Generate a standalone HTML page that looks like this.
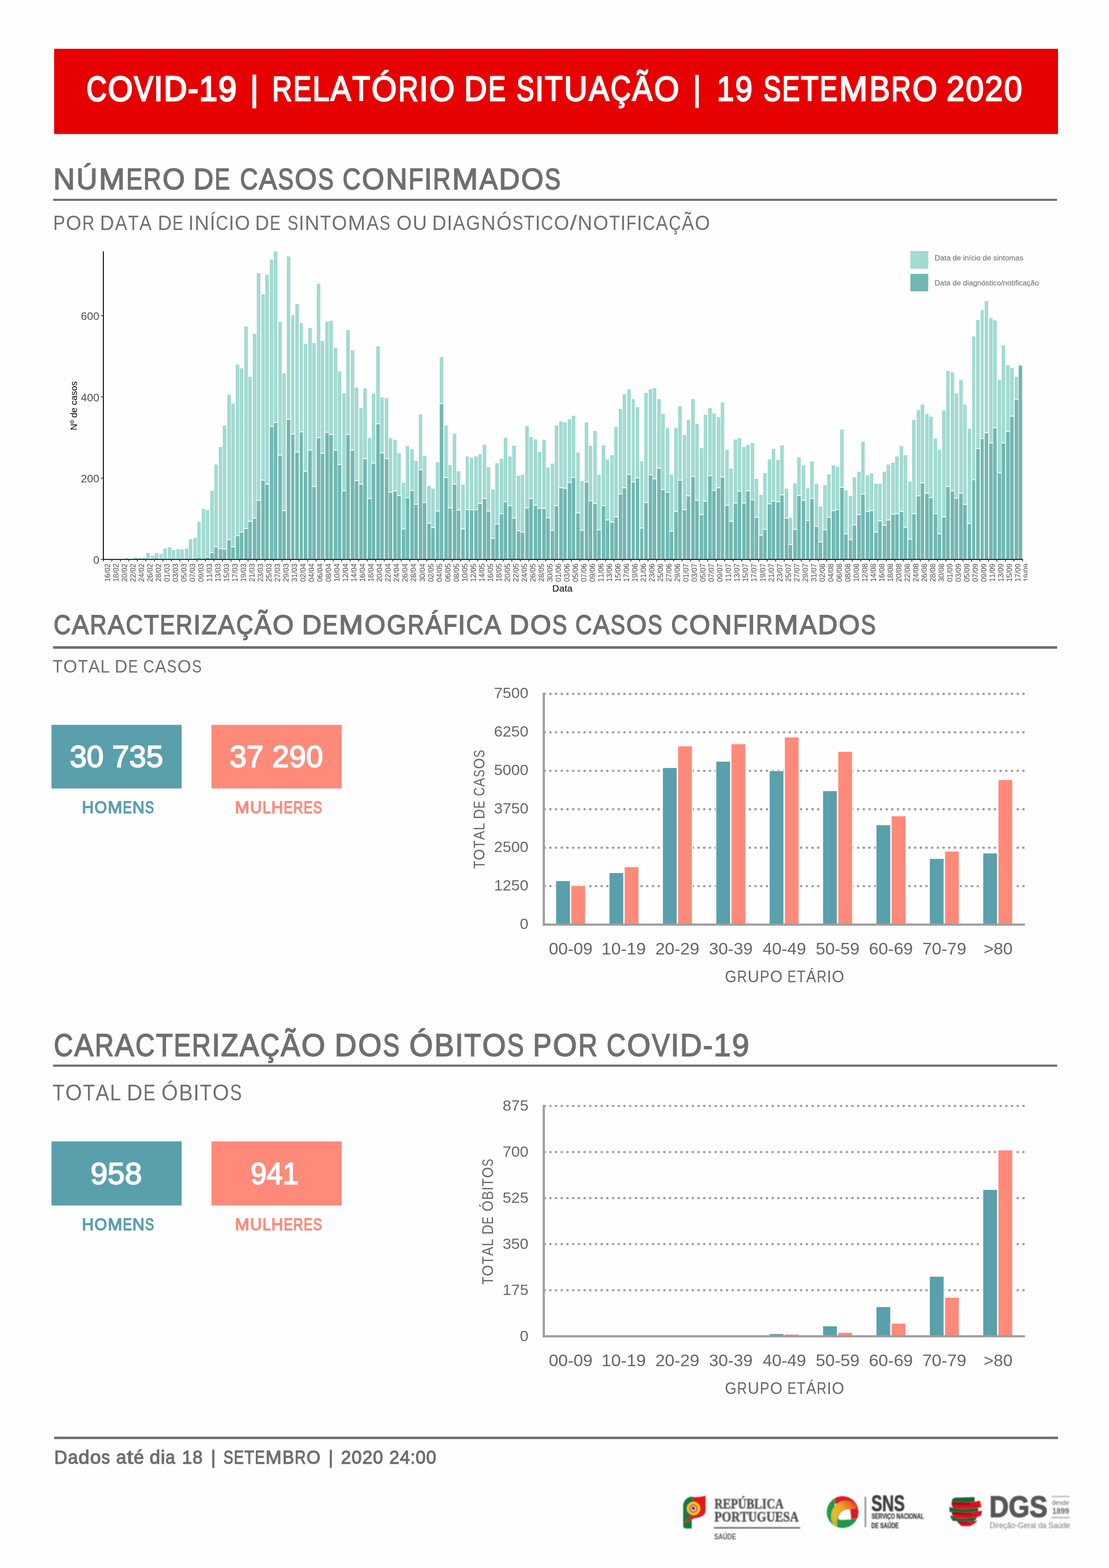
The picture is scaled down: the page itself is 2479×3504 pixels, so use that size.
<!DOCTYPE html>
<html lang="pt"><head><meta charset="utf-8"><title>COVID-19 | Relatório de Situação | 19 Setembro 2020</title>
<style>
html,body{margin:0;padding:0;background:#fff}
body{width:2479px;height:3504px;overflow:hidden}
svg{display:block}
text{font-kerning:none;white-space:pre}
</style></head><body>
<svg width="2479" height="3504" viewBox="0 0 2479 3504">
<rect width="2479" height="3504" fill="#fefefe"/>
<rect x="121.00" y="109.00" width="2244.00" height="190.50" fill="#e60000"/>
<text aria-label="COVID-19 | RELATÓRIO DE SITUAÇÃO | 19 SETEMBRO 2020" y="225.20" font-family='"Liberation Sans",sans-serif' font-size="78.05" fill="#fff" stroke-linejoin="miter" stroke-miterlimit="3"><tspan x="193.45" textLength="44.79" lengthAdjust="spacingAndGlyphs" stroke="#fff" stroke-width="3.60">C</tspan><tspan x="241.44" textLength="55.30" lengthAdjust="spacingAndGlyphs" stroke="#fff" stroke-width="3.60">O</tspan><tspan x="299.84" textLength="42.26" lengthAdjust="spacingAndGlyphs" stroke="#fff" stroke-width="3.60">V</tspan><tspan x="344.08" textLength="19.80" lengthAdjust="spacingAndGlyphs" stroke="#fff" stroke-width="3.60">I</tspan><tspan x="366.16" textLength="51.76" lengthAdjust="spacingAndGlyphs" stroke="#fff" stroke-width="3.60">D</tspan><tspan x="420.30" textLength="22.85" lengthAdjust="spacingAndGlyphs" stroke="#fff" stroke-width="3.60">-</tspan><tspan x="445.17" textLength="40.60" lengthAdjust="spacingAndGlyphs" stroke="#fff" stroke-width="3.60">1</tspan><tspan x="488.36" textLength="40.60" lengthAdjust="spacingAndGlyphs" stroke="#fff" stroke-width="3.60">9</tspan> <tspan x="558.57" textLength="19.87" lengthAdjust="spacingAndGlyphs" stroke="#fff" stroke-width="2.40">|</tspan> <tspan x="608.31" textLength="44.78" lengthAdjust="spacingAndGlyphs" stroke="#fff" stroke-width="2.80">R</tspan><tspan x="655.81" textLength="40.29" lengthAdjust="spacingAndGlyphs" stroke="#fff" stroke-width="2.80">E</tspan><tspan x="698.59" textLength="37.60" lengthAdjust="spacingAndGlyphs" stroke="#fff" stroke-width="2.80">L</tspan><tspan x="738.85" textLength="45.84" lengthAdjust="spacingAndGlyphs" stroke="#fff" stroke-width="2.80">A</tspan><tspan x="787.44" textLength="40.08" lengthAdjust="spacingAndGlyphs" stroke="#fff" stroke-width="2.80">T</tspan><tspan x="830.60" textLength="56.42" lengthAdjust="spacingAndGlyphs" stroke="#fff" stroke-width="2.80">Ó</tspan><tspan x="890.25" textLength="44.78" lengthAdjust="spacingAndGlyphs" stroke="#fff" stroke-width="2.80">R</tspan><tspan x="937.11" textLength="20.20" lengthAdjust="spacingAndGlyphs" stroke="#fff" stroke-width="2.80">I</tspan><tspan x="959.75" textLength="56.42" lengthAdjust="spacingAndGlyphs" stroke="#fff" stroke-width="2.80">O</tspan> <tspan x="1037.39" textLength="51.13" lengthAdjust="spacingAndGlyphs" stroke="#fff" stroke-width="2.80">D</tspan><tspan x="1091.40" textLength="39.01" lengthAdjust="spacingAndGlyphs" stroke="#fff" stroke-width="2.80">E</tspan> <tspan x="1154.41" textLength="39.54" lengthAdjust="spacingAndGlyphs" stroke="#fff" stroke-width="2.80">S</tspan><tspan x="1195.85" textLength="20.09" lengthAdjust="spacingAndGlyphs" stroke="#fff" stroke-width="2.80">I</tspan><tspan x="1217.85" textLength="39.86" lengthAdjust="spacingAndGlyphs" stroke="#fff" stroke-width="2.80">T</tspan><tspan x="1260.66" textLength="52.45" lengthAdjust="spacingAndGlyphs" stroke="#fff" stroke-width="2.80">U</tspan><tspan x="1316.24" textLength="45.59" lengthAdjust="spacingAndGlyphs" stroke="#fff" stroke-width="2.80">A</tspan><tspan x="1364.74" textLength="45.45" lengthAdjust="spacingAndGlyphs" stroke="#fff" stroke-width="2.80">Ç</tspan><tspan x="1413.10" textLength="45.59" lengthAdjust="spacingAndGlyphs" stroke="#fff" stroke-width="2.80">Ã</tspan><tspan x="1461.94" textLength="56.11" lengthAdjust="spacingAndGlyphs" stroke="#fff" stroke-width="2.80">O</tspan> <tspan x="1547.52" textLength="21.15" lengthAdjust="spacingAndGlyphs" stroke="#fff" stroke-width="1.20">|</tspan> <tspan x="1602.53" textLength="38.50" lengthAdjust="spacingAndGlyphs" stroke="#fff" stroke-width="2.80">1</tspan><tspan x="1643.48" textLength="38.50" lengthAdjust="spacingAndGlyphs" stroke="#fff" stroke-width="2.80">9</tspan> <tspan x="1706.54" textLength="39.13" lengthAdjust="spacingAndGlyphs" stroke="#fff" stroke-width="2.80">S</tspan><tspan x="1748.18" textLength="39.65" lengthAdjust="spacingAndGlyphs" stroke="#fff" stroke-width="2.80">E</tspan><tspan x="1790.35" textLength="39.44" lengthAdjust="spacingAndGlyphs" stroke="#fff" stroke-width="2.80">T</tspan><tspan x="1832.31" textLength="39.65" lengthAdjust="spacingAndGlyphs" stroke="#fff" stroke-width="2.80">E</tspan><tspan x="1875.28" textLength="64.36" lengthAdjust="spacingAndGlyphs" stroke="#fff" stroke-width="2.80">M</tspan><tspan x="1943.17" textLength="46.19" lengthAdjust="spacingAndGlyphs" stroke="#fff" stroke-width="2.80">B</tspan><tspan x="1992.25" textLength="44.07" lengthAdjust="spacingAndGlyphs" stroke="#fff" stroke-width="2.80">R</tspan><tspan x="2039.49" textLength="55.52" lengthAdjust="spacingAndGlyphs" stroke="#fff" stroke-width="2.80">O</tspan> <tspan x="2115.75" textLength="40.34" lengthAdjust="spacingAndGlyphs" stroke="#fff" stroke-width="2.80">2</tspan><tspan x="2158.67" textLength="40.34" lengthAdjust="spacingAndGlyphs" stroke="#fff" stroke-width="2.80">0</tspan><tspan x="2201.58" textLength="40.34" lengthAdjust="spacingAndGlyphs" stroke="#fff" stroke-width="2.80">2</tspan><tspan x="2244.49" textLength="40.34" lengthAdjust="spacingAndGlyphs" stroke="#fff" stroke-width="2.80">0</tspan></text>
<text aria-label="NÚMERO DE CASOS CONFIRMADOS" y="423.20" font-family='"Liberation Sans",sans-serif' font-size="66.13" fill="#706f6f" stroke-linejoin="miter" stroke-miterlimit="3"><tspan x="119.08" textLength="48.60" lengthAdjust="spacingAndGlyphs" stroke="#706f6f" stroke-width="2.00">N</tspan><tspan x="170.72" textLength="46.93" lengthAdjust="spacingAndGlyphs" stroke="#706f6f" stroke-width="2.00">Ú</tspan><tspan x="221.01" textLength="58.20" lengthAdjust="spacingAndGlyphs" stroke="#706f6f" stroke-width="2.00">M</tspan><tspan x="282.20" textLength="35.85" lengthAdjust="spacingAndGlyphs" stroke="#706f6f" stroke-width="2.00">E</tspan><tspan x="320.47" textLength="39.85" lengthAdjust="spacingAndGlyphs" stroke="#706f6f" stroke-width="2.00">R</tspan><tspan x="363.19" textLength="50.20" lengthAdjust="spacingAndGlyphs" stroke="#706f6f" stroke-width="2.00">O</tspan> <tspan x="432.40" textLength="44.86" lengthAdjust="spacingAndGlyphs" stroke="#706f6f" stroke-width="2.00">D</tspan><tspan x="479.78" textLength="34.22" lengthAdjust="spacingAndGlyphs" stroke="#706f6f" stroke-width="2.00">E</tspan> <tspan x="536.59" textLength="39.94" lengthAdjust="spacingAndGlyphs" stroke="#706f6f" stroke-width="2.00">C</tspan><tspan x="579.08" textLength="40.06" lengthAdjust="spacingAndGlyphs" stroke="#706f6f" stroke-width="2.00">A</tspan><tspan x="621.53" textLength="34.74" lengthAdjust="spacingAndGlyphs" stroke="#706f6f" stroke-width="2.00">S</tspan><tspan x="658.96" textLength="49.30" lengthAdjust="spacingAndGlyphs" stroke="#706f6f" stroke-width="2.00">O</tspan><tspan x="710.95" textLength="34.74" lengthAdjust="spacingAndGlyphs" stroke="#706f6f" stroke-width="2.00">S</tspan> <tspan x="765.65" textLength="40.52" lengthAdjust="spacingAndGlyphs" stroke="#706f6f" stroke-width="2.00">C</tspan><tspan x="809.06" textLength="50.03" lengthAdjust="spacingAndGlyphs" stroke="#706f6f" stroke-width="2.00">O</tspan><tspan x="862.23" textLength="48.43" lengthAdjust="spacingAndGlyphs" stroke="#706f6f" stroke-width="2.00">N</tspan><tspan x="913.26" textLength="33.15" lengthAdjust="spacingAndGlyphs" stroke="#706f6f" stroke-width="2.00">F</tspan><tspan x="948.05" textLength="17.91" lengthAdjust="spacingAndGlyphs" stroke="#706f6f" stroke-width="2.00">I</tspan><tspan x="967.79" textLength="39.71" lengthAdjust="spacingAndGlyphs" stroke="#706f6f" stroke-width="2.00">R</tspan><tspan x="1010.62" textLength="57.99" lengthAdjust="spacingAndGlyphs" stroke="#706f6f" stroke-width="2.00">M</tspan><tspan x="1071.76" textLength="40.65" lengthAdjust="spacingAndGlyphs" stroke="#706f6f" stroke-width="2.00">A</tspan><tspan x="1115.20" textLength="46.83" lengthAdjust="spacingAndGlyphs" stroke="#706f6f" stroke-width="2.00">D</tspan><tspan x="1165.12" textLength="50.03" lengthAdjust="spacingAndGlyphs" stroke="#706f6f" stroke-width="2.00">O</tspan><tspan x="1217.87" textLength="35.25" lengthAdjust="spacingAndGlyphs" stroke="#706f6f" stroke-width="2.00">S</tspan></text>
<rect x="118.50" y="444.20" width="2244.50" height="4.70" fill="#706f6f"/>
<text aria-label="POR DATA DE INÍCIO DE SINTOMAS OU DIAGNÓSTICO/NOTIFICAÇÃO" y="513.60" font-family='"Liberation Sans",sans-serif' font-size="45.78" fill="#706f6f" stroke-linejoin="miter" stroke-miterlimit="3"><tspan x="118.93" textLength="26.60" lengthAdjust="spacingAndGlyphs">P</tspan><tspan x="147.47" textLength="34.40" lengthAdjust="spacingAndGlyphs">O</tspan><tspan x="183.85" textLength="27.31" lengthAdjust="spacingAndGlyphs">R</tspan> <tspan x="223.51" textLength="31.56" lengthAdjust="spacingAndGlyphs">D</tspan><tspan x="256.96" textLength="27.40" lengthAdjust="spacingAndGlyphs">A</tspan><tspan x="285.99" textLength="23.95" lengthAdjust="spacingAndGlyphs">T</tspan><tspan x="311.58" textLength="27.40" lengthAdjust="spacingAndGlyphs">A</tspan> <tspan x="352.65" textLength="31.21" lengthAdjust="spacingAndGlyphs">D</tspan><tspan x="385.62" textLength="23.81" lengthAdjust="spacingAndGlyphs">E</tspan> <tspan x="421.06" textLength="12.16" lengthAdjust="spacingAndGlyphs">I</tspan><tspan x="434.66" textLength="32.88" lengthAdjust="spacingAndGlyphs">N</tspan><tspan x="468.98" textLength="12.16" lengthAdjust="spacingAndGlyphs">Í</tspan><tspan x="482.41" textLength="27.52" lengthAdjust="spacingAndGlyphs">C</tspan><tspan x="511.19" textLength="12.16" lengthAdjust="spacingAndGlyphs">I</tspan><tspan x="524.82" textLength="33.97" lengthAdjust="spacingAndGlyphs">O</tspan> <tspan x="570.35" textLength="31.21" lengthAdjust="spacingAndGlyphs">D</tspan><tspan x="603.32" textLength="23.81" lengthAdjust="spacingAndGlyphs">E</tspan> <tspan x="642.68" textLength="23.84" lengthAdjust="spacingAndGlyphs">S</tspan><tspan x="667.67" textLength="12.11" lengthAdjust="spacingAndGlyphs">I</tspan><tspan x="681.21" textLength="32.75" lengthAdjust="spacingAndGlyphs">N</tspan><tspan x="715.77" textLength="24.03" lengthAdjust="spacingAndGlyphs">T</tspan><tspan x="741.65" textLength="33.83" lengthAdjust="spacingAndGlyphs">O</tspan><tspan x="777.82" textLength="39.22" lengthAdjust="spacingAndGlyphs">M</tspan><tspan x="819.17" textLength="27.49" lengthAdjust="spacingAndGlyphs">A</tspan><tspan x="848.30" textLength="23.84" lengthAdjust="spacingAndGlyphs">S</tspan> <tspan x="886.32" textLength="34.10" lengthAdjust="spacingAndGlyphs">O</tspan><tspan x="922.53" textLength="31.88" lengthAdjust="spacingAndGlyphs">U</tspan> <tspan x="966.11" textLength="31.57" lengthAdjust="spacingAndGlyphs">D</tspan><tspan x="999.07" textLength="12.07" lengthAdjust="spacingAndGlyphs">I</tspan><tspan x="1012.41" textLength="27.40" lengthAdjust="spacingAndGlyphs">A</tspan><tspan x="1041.69" textLength="31.53" lengthAdjust="spacingAndGlyphs">G</tspan><tspan x="1075.26" textLength="32.65" lengthAdjust="spacingAndGlyphs">N</tspan><tspan x="1110.03" textLength="33.72" lengthAdjust="spacingAndGlyphs">Ó</tspan><tspan x="1145.59" textLength="23.77" lengthAdjust="spacingAndGlyphs">S</tspan><tspan x="1170.88" textLength="23.96" lengthAdjust="spacingAndGlyphs">T</tspan><tspan x="1195.98" textLength="12.07" lengthAdjust="spacingAndGlyphs">I</tspan><tspan x="1209.31" textLength="27.32" lengthAdjust="spacingAndGlyphs">C</tspan><tspan x="1238.58" textLength="33.72" lengthAdjust="spacingAndGlyphs">O</tspan><tspan x="1273.89" textLength="15.90" lengthAdjust="spacingAndGlyphs">/</tspan><tspan x="1291.34" textLength="32.65" lengthAdjust="spacingAndGlyphs">N</tspan><tspan x="1326.10" textLength="33.72" lengthAdjust="spacingAndGlyphs">O</tspan><tspan x="1361.66" textLength="23.96" lengthAdjust="spacingAndGlyphs">T</tspan><tspan x="1386.77" textLength="12.07" lengthAdjust="spacingAndGlyphs">I</tspan><tspan x="1399.94" textLength="22.35" lengthAdjust="spacingAndGlyphs">F</tspan><tspan x="1423.39" textLength="12.07" lengthAdjust="spacingAndGlyphs">I</tspan><tspan x="1436.72" textLength="27.32" lengthAdjust="spacingAndGlyphs">C</tspan><tspan x="1465.78" textLength="27.40" lengthAdjust="spacingAndGlyphs">A</tspan><tspan x="1494.93" textLength="27.32" lengthAdjust="spacingAndGlyphs">Ç</tspan><tspan x="1524.00" textLength="27.40" lengthAdjust="spacingAndGlyphs">Ã</tspan><tspan x="1553.35" textLength="33.72" lengthAdjust="spacingAndGlyphs">O</tspan></text>
<text aria-label="CARACTERIZAÇÃO DEMOGRÁFICA DOS CASOS CONFIRMADOS" y="1417.30" font-family='"Liberation Sans",sans-serif' font-size="61.77" fill="#706f6f" stroke-linejoin="miter" stroke-miterlimit="3"><tspan x="119.92" textLength="38.07" lengthAdjust="spacingAndGlyphs" stroke="#706f6f" stroke-width="2.00">C</tspan><tspan x="160.43" textLength="38.19" lengthAdjust="spacingAndGlyphs" stroke="#706f6f" stroke-width="2.00">A</tspan><tspan x="201.03" textLength="37.31" lengthAdjust="spacingAndGlyphs" stroke="#706f6f" stroke-width="2.00">R</tspan><tspan x="240.75" textLength="38.19" lengthAdjust="spacingAndGlyphs" stroke="#706f6f" stroke-width="2.00">A</tspan><tspan x="281.37" textLength="38.07" lengthAdjust="spacingAndGlyphs" stroke="#706f6f" stroke-width="2.00">C</tspan><tspan x="321.73" textLength="33.39" lengthAdjust="spacingAndGlyphs" stroke="#706f6f" stroke-width="2.00">T</tspan><tspan x="357.25" textLength="33.56" lengthAdjust="spacingAndGlyphs" stroke="#706f6f" stroke-width="2.00">E</tspan><tspan x="393.08" textLength="37.31" lengthAdjust="spacingAndGlyphs" stroke="#706f6f" stroke-width="2.00">R</tspan><tspan x="432.11" textLength="16.83" lengthAdjust="spacingAndGlyphs" stroke="#706f6f" stroke-width="2.00">I</tspan><tspan x="450.58" textLength="34.45" lengthAdjust="spacingAndGlyphs" stroke="#706f6f" stroke-width="2.00">Z</tspan><tspan x="487.35" textLength="38.19" lengthAdjust="spacingAndGlyphs" stroke="#706f6f" stroke-width="2.00">A</tspan><tspan x="527.97" textLength="38.07" lengthAdjust="spacingAndGlyphs" stroke="#706f6f" stroke-width="2.00">Ç</tspan><tspan x="568.48" textLength="38.19" lengthAdjust="spacingAndGlyphs" stroke="#706f6f" stroke-width="2.00">Ã</tspan><tspan x="609.39" textLength="47.00" lengthAdjust="spacingAndGlyphs" stroke="#706f6f" stroke-width="2.00">O</tspan> <tspan x="675.02" textLength="43.83" lengthAdjust="spacingAndGlyphs" stroke="#706f6f" stroke-width="2.00">D</tspan><tspan x="721.32" textLength="33.44" lengthAdjust="spacingAndGlyphs" stroke="#706f6f" stroke-width="2.00">E</tspan><tspan x="757.55" textLength="54.28" lengthAdjust="spacingAndGlyphs" stroke="#706f6f" stroke-width="2.00">M</tspan><tspan x="815.06" textLength="46.82" lengthAdjust="spacingAndGlyphs" stroke="#706f6f" stroke-width="2.00">O</tspan><tspan x="864.78" textLength="43.77" lengthAdjust="spacingAndGlyphs" stroke="#706f6f" stroke-width="2.00">G</tspan><tspan x="911.13" textLength="37.17" lengthAdjust="spacingAndGlyphs" stroke="#706f6f" stroke-width="2.00">R</tspan><tspan x="950.70" textLength="38.05" lengthAdjust="spacingAndGlyphs" stroke="#706f6f" stroke-width="2.00">Á</tspan><tspan x="990.95" textLength="31.03" lengthAdjust="spacingAndGlyphs" stroke="#706f6f" stroke-width="2.00">F</tspan><tspan x="1023.50" textLength="16.76" lengthAdjust="spacingAndGlyphs" stroke="#706f6f" stroke-width="2.00">I</tspan><tspan x="1042.01" textLength="37.93" lengthAdjust="spacingAndGlyphs" stroke="#706f6f" stroke-width="2.00">C</tspan><tspan x="1082.37" textLength="38.05" lengthAdjust="spacingAndGlyphs" stroke="#706f6f" stroke-width="2.00">A</tspan> <tspan x="1138.95" textLength="43.56" lengthAdjust="spacingAndGlyphs" stroke="#706f6f" stroke-width="2.00">D</tspan><tspan x="1185.39" textLength="46.54" lengthAdjust="spacingAndGlyphs" stroke="#706f6f" stroke-width="2.00">O</tspan><tspan x="1234.46" textLength="32.80" lengthAdjust="spacingAndGlyphs" stroke="#706f6f" stroke-width="2.00">S</tspan> <tspan x="1285.99" textLength="37.12" lengthAdjust="spacingAndGlyphs" stroke="#706f6f" stroke-width="2.00">C</tspan><tspan x="1325.48" textLength="37.23" lengthAdjust="spacingAndGlyphs" stroke="#706f6f" stroke-width="2.00">A</tspan><tspan x="1364.93" textLength="32.29" lengthAdjust="spacingAndGlyphs" stroke="#706f6f" stroke-width="2.00">S</tspan><tspan x="1399.72" textLength="45.82" lengthAdjust="spacingAndGlyphs" stroke="#706f6f" stroke-width="2.00">O</tspan><tspan x="1448.03" textLength="32.29" lengthAdjust="spacingAndGlyphs" stroke="#706f6f" stroke-width="2.00">S</tspan> <tspan x="1500.13" textLength="38.03" lengthAdjust="spacingAndGlyphs" stroke="#706f6f" stroke-width="2.00">C</tspan><tspan x="1540.87" textLength="46.95" lengthAdjust="spacingAndGlyphs" stroke="#706f6f" stroke-width="2.00">O</tspan><tspan x="1590.76" textLength="45.44" lengthAdjust="spacingAndGlyphs" stroke="#706f6f" stroke-width="2.00">N</tspan><tspan x="1638.65" textLength="31.11" lengthAdjust="spacingAndGlyphs" stroke="#706f6f" stroke-width="2.00">F</tspan><tspan x="1671.29" textLength="16.81" lengthAdjust="spacingAndGlyphs" stroke="#706f6f" stroke-width="2.00">I</tspan><tspan x="1689.82" textLength="37.26" lengthAdjust="spacingAndGlyphs" stroke="#706f6f" stroke-width="2.00">R</tspan><tspan x="1730.01" textLength="54.42" lengthAdjust="spacingAndGlyphs" stroke="#706f6f" stroke-width="2.00">M</tspan><tspan x="1787.38" textLength="38.15" lengthAdjust="spacingAndGlyphs" stroke="#706f6f" stroke-width="2.00">A</tspan><tspan x="1828.15" textLength="43.94" lengthAdjust="spacingAndGlyphs" stroke="#706f6f" stroke-width="2.00">D</tspan><tspan x="1874.99" textLength="46.95" lengthAdjust="spacingAndGlyphs" stroke="#706f6f" stroke-width="2.00">O</tspan><tspan x="1924.49" textLength="33.08" lengthAdjust="spacingAndGlyphs" stroke="#706f6f" stroke-width="2.00">S</tspan></text>
<rect x="118.50" y="1444.00" width="2244.50" height="5.80" fill="#706f6f"/>
<text aria-label="TOTAL DE CASOS" y="1502.60" font-family='"Liberation Sans",sans-serif' font-size="41.57" fill="#706f6f" stroke-linejoin="miter" stroke-miterlimit="3"><tspan x="117.69" textLength="22.09" lengthAdjust="spacingAndGlyphs">T</tspan><tspan x="141.48" textLength="31.10" lengthAdjust="spacingAndGlyphs">O</tspan><tspan x="174.27" textLength="22.09" lengthAdjust="spacingAndGlyphs">T</tspan><tspan x="197.87" textLength="25.27" lengthAdjust="spacingAndGlyphs">A</tspan><tspan x="224.61" textLength="20.73" lengthAdjust="spacingAndGlyphs">L</tspan> <tspan x="256.36" textLength="28.56" lengthAdjust="spacingAndGlyphs">D</tspan><tspan x="286.52" textLength="21.78" lengthAdjust="spacingAndGlyphs">E</tspan> <tspan x="319.95" textLength="24.95" lengthAdjust="spacingAndGlyphs">C</tspan><tspan x="346.49" textLength="25.03" lengthAdjust="spacingAndGlyphs">A</tspan><tspan x="373.02" textLength="21.71" lengthAdjust="spacingAndGlyphs">S</tspan><tspan x="396.40" textLength="30.81" lengthAdjust="spacingAndGlyphs">O</tspan><tspan x="428.88" textLength="21.71" lengthAdjust="spacingAndGlyphs">S</tspan></text>
<text aria-label="CARACTERIZAÇÃO DOS ÓBITOS POR COVID-19" y="2360.30" font-family='"Liberation Sans",sans-serif' font-size="69.77" fill="#706f6f" stroke-linejoin="miter" stroke-miterlimit="3"><tspan x="120.17" textLength="43.06" lengthAdjust="spacingAndGlyphs" stroke="#706f6f" stroke-width="2.00">C</tspan><tspan x="165.98" textLength="43.19" lengthAdjust="spacingAndGlyphs" stroke="#706f6f" stroke-width="2.00">A</tspan><tspan x="211.90" textLength="42.19" lengthAdjust="spacingAndGlyphs" stroke="#706f6f" stroke-width="2.00">R</tspan><tspan x="256.82" textLength="43.19" lengthAdjust="spacingAndGlyphs" stroke="#706f6f" stroke-width="2.00">A</tspan><tspan x="302.76" textLength="43.06" lengthAdjust="spacingAndGlyphs" stroke="#706f6f" stroke-width="2.00">C</tspan><tspan x="348.40" textLength="37.76" lengthAdjust="spacingAndGlyphs" stroke="#706f6f" stroke-width="2.00">T</tspan><tspan x="388.57" textLength="37.96" lengthAdjust="spacingAndGlyphs" stroke="#706f6f" stroke-width="2.00">E</tspan><tspan x="429.09" textLength="42.19" lengthAdjust="spacingAndGlyphs" stroke="#706f6f" stroke-width="2.00">R</tspan><tspan x="473.23" textLength="19.03" lengthAdjust="spacingAndGlyphs" stroke="#706f6f" stroke-width="2.00">I</tspan><tspan x="494.11" textLength="38.96" lengthAdjust="spacingAndGlyphs" stroke="#706f6f" stroke-width="2.00">Z</tspan><tspan x="535.69" textLength="43.19" lengthAdjust="spacingAndGlyphs" stroke="#706f6f" stroke-width="2.00">A</tspan><tspan x="581.64" textLength="43.06" lengthAdjust="spacingAndGlyphs" stroke="#706f6f" stroke-width="2.00">Ç</tspan><tspan x="627.45" textLength="43.19" lengthAdjust="spacingAndGlyphs" stroke="#706f6f" stroke-width="2.00">Ã</tspan><tspan x="673.71" textLength="53.16" lengthAdjust="spacingAndGlyphs" stroke="#706f6f" stroke-width="2.00">O</tspan> <tspan x="748.11" textLength="49.25" lengthAdjust="spacingAndGlyphs" stroke="#706f6f" stroke-width="2.00">D</tspan><tspan x="800.60" textLength="52.61" lengthAdjust="spacingAndGlyphs" stroke="#706f6f" stroke-width="2.00">O</tspan><tspan x="856.08" textLength="37.07" lengthAdjust="spacingAndGlyphs" stroke="#706f6f" stroke-width="2.00">S</tspan> <tspan x="914.98" textLength="52.86" lengthAdjust="spacingAndGlyphs" stroke="#706f6f" stroke-width="2.00">Ó</tspan><tspan x="970.93" textLength="43.98" lengthAdjust="spacingAndGlyphs" stroke="#706f6f" stroke-width="2.00">B</tspan><tspan x="1016.92" textLength="18.92" lengthAdjust="spacingAndGlyphs" stroke="#706f6f" stroke-width="2.00">I</tspan><tspan x="1037.64" textLength="37.55" lengthAdjust="spacingAndGlyphs" stroke="#706f6f" stroke-width="2.00">T</tspan><tspan x="1078.08" textLength="52.86" lengthAdjust="spacingAndGlyphs" stroke="#706f6f" stroke-width="2.00">O</tspan><tspan x="1133.81" textLength="37.25" lengthAdjust="spacingAndGlyphs" stroke="#706f6f" stroke-width="2.00">S</tspan> <tspan x="1191.50" textLength="41.45" lengthAdjust="spacingAndGlyphs" stroke="#706f6f" stroke-width="2.00">P</tspan><tspan x="1235.99" textLength="53.62" lengthAdjust="spacingAndGlyphs" stroke="#706f6f" stroke-width="2.00">O</tspan><tspan x="1292.67" textLength="42.56" lengthAdjust="spacingAndGlyphs" stroke="#706f6f" stroke-width="2.00">R</tspan> <tspan x="1356.11" textLength="42.53" lengthAdjust="spacingAndGlyphs" stroke="#706f6f" stroke-width="2.00">C</tspan><tspan x="1401.67" textLength="52.50" lengthAdjust="spacingAndGlyphs" stroke="#706f6f" stroke-width="2.00">O</tspan><tspan x="1457.13" textLength="40.13" lengthAdjust="spacingAndGlyphs" stroke="#706f6f" stroke-width="2.00">V</tspan><tspan x="1499.14" textLength="18.80" lengthAdjust="spacingAndGlyphs" stroke="#706f6f" stroke-width="2.00">I</tspan><tspan x="1520.11" textLength="49.15" lengthAdjust="spacingAndGlyphs" stroke="#706f6f" stroke-width="2.00">D</tspan><tspan x="1571.51" textLength="21.69" lengthAdjust="spacingAndGlyphs" stroke="#706f6f" stroke-width="2.00">-</tspan><tspan x="1595.13" textLength="38.55" lengthAdjust="spacingAndGlyphs" stroke="#706f6f" stroke-width="2.00">1</tspan><tspan x="1636.14" textLength="38.55" lengthAdjust="spacingAndGlyphs" stroke="#706f6f" stroke-width="2.00">9</tspan></text>
<rect x="118.50" y="2379.00" width="2244.50" height="4.80" fill="#706f6f"/>
<text aria-label="TOTAL DE ÓBITOS" y="2459.20" font-family='"Liberation Sans",sans-serif' font-size="49.42" fill="#706f6f" stroke-linejoin="miter" stroke-miterlimit="3"><tspan x="117.53" textLength="26.51" lengthAdjust="spacingAndGlyphs">T</tspan><tspan x="146.07" textLength="37.31" lengthAdjust="spacingAndGlyphs">O</tspan><tspan x="185.42" textLength="26.51" lengthAdjust="spacingAndGlyphs">T</tspan><tspan x="213.74" textLength="30.32" lengthAdjust="spacingAndGlyphs">A</tspan><tspan x="245.82" textLength="24.87" lengthAdjust="spacingAndGlyphs">L</tspan> <tspan x="283.30" textLength="35.26" lengthAdjust="spacingAndGlyphs">D</tspan><tspan x="320.54" textLength="26.90" lengthAdjust="spacingAndGlyphs">E</tspan> <tspan x="360.74" textLength="37.06" lengthAdjust="spacingAndGlyphs">Ó</tspan><tspan x="399.97" textLength="30.84" lengthAdjust="spacingAndGlyphs">B</tspan><tspan x="432.22" textLength="13.27" lengthAdjust="spacingAndGlyphs">I</tspan><tspan x="446.75" textLength="26.33" lengthAdjust="spacingAndGlyphs">T</tspan><tspan x="475.10" textLength="37.06" lengthAdjust="spacingAndGlyphs">O</tspan><tspan x="514.18" textLength="26.12" lengthAdjust="spacingAndGlyphs">S</tspan></text>
<rect x="121.00" y="3210.50" width="2244.00" height="5.50" fill="#706f6f"/>
<text aria-label="Dados até dia 18 | SETEMBRO | 2020 24:00" y="3271.20" font-family='"Liberation Sans",sans-serif' font-size="42.73" fill="#706f6f" stroke-linejoin="miter" stroke-miterlimit="3"><tspan x="121.31" textLength="28.98" lengthAdjust="spacingAndGlyphs" stroke="#706f6f" stroke-width="1.60">D</tspan><tspan x="151.92" textLength="22.11" lengthAdjust="spacingAndGlyphs" stroke="#706f6f" stroke-width="1.60">a</tspan><tspan x="175.51" textLength="24.36" lengthAdjust="spacingAndGlyphs" stroke="#706f6f" stroke-width="1.60">d</tspan><tspan x="201.42" textLength="24.01" lengthAdjust="spacingAndGlyphs" stroke="#706f6f" stroke-width="1.60">o</tspan><tspan x="226.80" textLength="18.97" lengthAdjust="spacingAndGlyphs" stroke="#706f6f" stroke-width="1.60">s</tspan> <tspan x="259.78" textLength="22.50" lengthAdjust="spacingAndGlyphs" stroke="#706f6f" stroke-width="1.60">a</tspan><tspan x="283.45" textLength="14.28" lengthAdjust="spacingAndGlyphs" stroke="#706f6f" stroke-width="1.60">t</tspan><tspan x="298.92" textLength="22.70" lengthAdjust="spacingAndGlyphs" stroke="#706f6f" stroke-width="1.60">é</tspan> <tspan x="334.52" textLength="23.58" lengthAdjust="spacingAndGlyphs" stroke="#706f6f" stroke-width="1.60">d</tspan><tspan x="359.17" textLength="9.73" lengthAdjust="spacingAndGlyphs" stroke="#706f6f" stroke-width="1.60">i</tspan><tspan x="369.90" textLength="21.40" lengthAdjust="spacingAndGlyphs" stroke="#706f6f" stroke-width="1.60">a</tspan> <tspan x="406.96" textLength="22.23" lengthAdjust="spacingAndGlyphs" stroke="#706f6f" stroke-width="1.60">1</tspan><tspan x="430.61" textLength="22.23" lengthAdjust="spacingAndGlyphs" stroke="#706f6f" stroke-width="1.60">8</tspan> <tspan x="469.65" textLength="14.10" lengthAdjust="spacingAndGlyphs" stroke="#706f6f" stroke-width="0.40">|</tspan> <tspan x="499.41" textLength="21.84" lengthAdjust="spacingAndGlyphs" stroke="#706f6f" stroke-width="1.60">S</tspan><tspan x="522.66" textLength="22.14" lengthAdjust="spacingAndGlyphs" stroke="#706f6f" stroke-width="1.60">E</tspan><tspan x="546.21" textLength="22.02" lengthAdjust="spacingAndGlyphs" stroke="#706f6f" stroke-width="1.60">T</tspan><tspan x="569.64" textLength="22.14" lengthAdjust="spacingAndGlyphs" stroke="#706f6f" stroke-width="1.60">E</tspan><tspan x="593.63" textLength="35.94" lengthAdjust="spacingAndGlyphs" stroke="#706f6f" stroke-width="1.60">M</tspan><tspan x="631.53" textLength="25.79" lengthAdjust="spacingAndGlyphs" stroke="#706f6f" stroke-width="1.60">B</tspan><tspan x="658.93" textLength="24.60" lengthAdjust="spacingAndGlyphs" stroke="#706f6f" stroke-width="1.60">R</tspan><tspan x="685.31" textLength="31.00" lengthAdjust="spacingAndGlyphs" stroke="#706f6f" stroke-width="1.60">O</tspan> <tspan x="732.55" textLength="14.10" lengthAdjust="spacingAndGlyphs" stroke="#706f6f" stroke-width="0.40">|</tspan> <tspan x="762.17" textLength="22.43" lengthAdjust="spacingAndGlyphs" stroke="#706f6f" stroke-width="1.60">2</tspan><tspan x="786.03" textLength="22.43" lengthAdjust="spacingAndGlyphs" stroke="#706f6f" stroke-width="1.60">0</tspan><tspan x="809.89" textLength="22.43" lengthAdjust="spacingAndGlyphs" stroke="#706f6f" stroke-width="1.60">2</tspan><tspan x="833.75" textLength="22.43" lengthAdjust="spacingAndGlyphs" stroke="#706f6f" stroke-width="1.60">0</tspan> <tspan x="870.17" textLength="22.43" lengthAdjust="spacingAndGlyphs" stroke="#706f6f" stroke-width="1.60">2</tspan><tspan x="894.03" textLength="22.43" lengthAdjust="spacingAndGlyphs" stroke="#706f6f" stroke-width="1.60">4</tspan><tspan x="917.50" textLength="10.44" lengthAdjust="spacingAndGlyphs" stroke="#706f6f" stroke-width="1.60">:</tspan><tspan x="928.99" textLength="22.43" lengthAdjust="spacingAndGlyphs" stroke="#706f6f" stroke-width="1.60">0</tspan><tspan x="952.85" textLength="22.43" lengthAdjust="spacingAndGlyphs" stroke="#706f6f" stroke-width="1.60">0</tspan></text>
<g shape-rendering="crispEdges">
<rect x="270.00" y="1249.00" width="8.00" height="0.00" fill="#a2dbd2"/>
<rect x="280.00" y="1247.00" width="7.00" height="2.00" fill="#a2dbd2"/>
<rect x="289.00" y="1249.00" width="8.00" height="0.00" fill="#a2dbd2"/>
<rect x="299.00" y="1246.00" width="8.00" height="3.00" fill="#a2dbd2"/>
<rect x="308.00" y="1247.00" width="8.00" height="2.00" fill="#a2dbd2"/>
<rect x="318.00" y="1246.00" width="8.00" height="3.00" fill="#a2dbd2"/>
<rect x="327.00" y="1236.00" width="8.00" height="13.00" fill="#a2dbd2"/>
<rect x="337.00" y="1242.00" width="8.00" height="7.00" fill="#a2dbd2"/>
<rect x="346.00" y="1236.00" width="8.00" height="13.00" fill="#a2dbd2"/>
<rect x="356.00" y="1238.00" width="8.00" height="11.00" fill="#a2dbd2"/>
<rect x="365.00" y="1226.00" width="8.00" height="23.00" fill="#a2dbd2"/>
<rect x="375.00" y="1223.00" width="8.00" height="26.00" fill="#a2dbd2"/>
<rect x="384.00" y="1229.00" width="8.00" height="20.00" fill="#a2dbd2"/>
<rect x="394.00" y="1227.00" width="8.00" height="22.00" fill="#a2dbd2"/>
<rect x="403.00" y="1228.00" width="8.00" height="21.00" fill="#a2dbd2"/>
<rect x="413.00" y="1226.00" width="8.00" height="23.00" fill="#a2dbd2"/>
<rect x="422.00" y="1205.00" width="8.00" height="44.00" fill="#a2dbd2"/>
<rect x="432.00" y="1202.00" width="8.00" height="47.00" fill="#a2dbd2"/>
<rect x="441.00" y="1166.00" width="8.00" height="83.00" fill="#a2dbd2"/>
<rect x="451.00" y="1137.00" width="8.00" height="112.00" fill="#a2dbd2"/>
<rect x="460.00" y="1140.00" width="8.00" height="109.00" fill="#a2dbd2"/>
<rect x="470.00" y="1097.00" width="8.00" height="152.00" fill="#a2dbd2"/>
<rect x="479.00" y="1038.00" width="8.00" height="211.00" fill="#a2dbd2"/>
<rect x="489.00" y="999.00" width="8.00" height="250.00" fill="#a2dbd2"/>
<rect x="498.00" y="951.00" width="8.00" height="298.00" fill="#a2dbd2"/>
<rect x="508.00" y="882.00" width="8.00" height="367.00" fill="#a2dbd2"/>
<rect x="517.00" y="902.00" width="8.00" height="347.00" fill="#a2dbd2"/>
<rect x="527.00" y="815.00" width="8.00" height="434.00" fill="#a2dbd2"/>
<rect x="536.00" y="823.00" width="8.00" height="426.00" fill="#a2dbd2"/>
<rect x="546.00" y="730.00" width="8.00" height="519.00" fill="#a2dbd2"/>
<rect x="555.00" y="842.00" width="8.00" height="407.00" fill="#a2dbd2"/>
<rect x="565.00" y="746.00" width="8.00" height="503.00" fill="#a2dbd2"/>
<rect x="574.00" y="610.00" width="8.00" height="639.00" fill="#a2dbd2"/>
<rect x="584.00" y="658.00" width="8.00" height="591.00" fill="#a2dbd2"/>
<rect x="593.00" y="614.00" width="8.00" height="635.00" fill="#a2dbd2"/>
<rect x="603.00" y="580.00" width="8.00" height="669.00" fill="#a2dbd2"/>
<rect x="612.00" y="562.00" width="8.00" height="687.00" fill="#a2dbd2"/>
<rect x="622.00" y="719.00" width="8.00" height="530.00" fill="#a2dbd2"/>
<rect x="631.00" y="834.00" width="8.00" height="415.00" fill="#a2dbd2"/>
<rect x="641.00" y="573.00" width="8.00" height="676.00" fill="#a2dbd2"/>
<rect x="651.00" y="704.00" width="7.00" height="545.00" fill="#a2dbd2"/>
<rect x="660.00" y="679.00" width="8.00" height="570.00" fill="#a2dbd2"/>
<rect x="670.00" y="722.00" width="7.00" height="527.00" fill="#a2dbd2"/>
<rect x="679.00" y="769.00" width="8.00" height="480.00" fill="#a2dbd2"/>
<rect x="689.00" y="733.00" width="8.00" height="516.00" fill="#a2dbd2"/>
<rect x="698.00" y="767.00" width="8.00" height="482.00" fill="#a2dbd2"/>
<rect x="708.00" y="634.00" width="8.00" height="615.00" fill="#a2dbd2"/>
<rect x="717.00" y="762.00" width="8.00" height="487.00" fill="#a2dbd2"/>
<rect x="727.00" y="719.00" width="8.00" height="530.00" fill="#a2dbd2"/>
<rect x="736.00" y="717.00" width="8.00" height="532.00" fill="#a2dbd2"/>
<rect x="746.00" y="777.00" width="8.00" height="472.00" fill="#a2dbd2"/>
<rect x="755.00" y="830.00" width="8.00" height="419.00" fill="#a2dbd2"/>
<rect x="765.00" y="879.00" width="8.00" height="370.00" fill="#a2dbd2"/>
<rect x="774.00" y="738.00" width="8.00" height="511.00" fill="#a2dbd2"/>
<rect x="784.00" y="783.00" width="8.00" height="466.00" fill="#a2dbd2"/>
<rect x="793.00" y="866.00" width="8.00" height="383.00" fill="#a2dbd2"/>
<rect x="803.00" y="912.00" width="8.00" height="337.00" fill="#a2dbd2"/>
<rect x="812.00" y="868.00" width="8.00" height="381.00" fill="#a2dbd2"/>
<rect x="822.00" y="979.00" width="8.00" height="270.00" fill="#a2dbd2"/>
<rect x="831.00" y="880.00" width="8.00" height="369.00" fill="#a2dbd2"/>
<rect x="841.00" y="774.00" width="8.00" height="475.00" fill="#a2dbd2"/>
<rect x="850.00" y="888.00" width="8.00" height="361.00" fill="#a2dbd2"/>
<rect x="860.00" y="890.00" width="8.00" height="359.00" fill="#a2dbd2"/>
<rect x="869.00" y="979.00" width="8.00" height="270.00" fill="#a2dbd2"/>
<rect x="879.00" y="983.00" width="8.00" height="266.00" fill="#a2dbd2"/>
<rect x="888.00" y="1013.00" width="8.00" height="236.00" fill="#a2dbd2"/>
<rect x="898.00" y="1079.00" width="8.00" height="170.00" fill="#a2dbd2"/>
<rect x="907.00" y="997.00" width="8.00" height="252.00" fill="#a2dbd2"/>
<rect x="917.00" y="1004.00" width="8.00" height="245.00" fill="#a2dbd2"/>
<rect x="926.00" y="1030.00" width="8.00" height="219.00" fill="#a2dbd2"/>
<rect x="936.00" y="926.00" width="8.00" height="323.00" fill="#a2dbd2"/>
<rect x="945.00" y="1019.00" width="8.00" height="230.00" fill="#a2dbd2"/>
<rect x="955.00" y="1086.00" width="8.00" height="163.00" fill="#a2dbd2"/>
<rect x="964.00" y="1092.00" width="8.00" height="157.00" fill="#a2dbd2"/>
<rect x="974.00" y="1033.00" width="8.00" height="216.00" fill="#a2dbd2"/>
<rect x="983.00" y="798.00" width="8.00" height="451.00" fill="#a2dbd2"/>
<rect x="993.00" y="951.00" width="8.00" height="298.00" fill="#a2dbd2"/>
<rect x="1002.00" y="1039.00" width="8.00" height="210.00" fill="#a2dbd2"/>
<rect x="1012.00" y="969.00" width="8.00" height="280.00" fill="#a2dbd2"/>
<rect x="1021.00" y="1053.00" width="8.00" height="196.00" fill="#a2dbd2"/>
<rect x="1031.00" y="1083.00" width="8.00" height="166.00" fill="#a2dbd2"/>
<rect x="1041.00" y="1020.00" width="7.00" height="229.00" fill="#a2dbd2"/>
<rect x="1050.00" y="1023.00" width="8.00" height="226.00" fill="#a2dbd2"/>
<rect x="1060.00" y="1020.00" width="8.00" height="229.00" fill="#a2dbd2"/>
<rect x="1069.00" y="1015.00" width="8.00" height="234.00" fill="#a2dbd2"/>
<rect x="1079.00" y="994.00" width="8.00" height="255.00" fill="#a2dbd2"/>
<rect x="1088.00" y="1044.00" width="8.00" height="205.00" fill="#a2dbd2"/>
<rect x="1098.00" y="1094.00" width="8.00" height="155.00" fill="#a2dbd2"/>
<rect x="1107.00" y="1035.00" width="8.00" height="214.00" fill="#a2dbd2"/>
<rect x="1117.00" y="1025.00" width="8.00" height="224.00" fill="#a2dbd2"/>
<rect x="1126.00" y="978.00" width="8.00" height="271.00" fill="#a2dbd2"/>
<rect x="1136.00" y="1020.00" width="8.00" height="229.00" fill="#a2dbd2"/>
<rect x="1145.00" y="996.00" width="8.00" height="253.00" fill="#a2dbd2"/>
<rect x="1155.00" y="1063.00" width="8.00" height="186.00" fill="#a2dbd2"/>
<rect x="1164.00" y="1061.00" width="8.00" height="188.00" fill="#a2dbd2"/>
<rect x="1174.00" y="952.00" width="8.00" height="297.00" fill="#a2dbd2"/>
<rect x="1183.00" y="977.00" width="8.00" height="272.00" fill="#a2dbd2"/>
<rect x="1193.00" y="982.00" width="8.00" height="267.00" fill="#a2dbd2"/>
<rect x="1202.00" y="1010.00" width="8.00" height="239.00" fill="#a2dbd2"/>
<rect x="1212.00" y="983.00" width="8.00" height="266.00" fill="#a2dbd2"/>
<rect x="1221.00" y="1045.00" width="8.00" height="204.00" fill="#a2dbd2"/>
<rect x="1231.00" y="1036.00" width="8.00" height="213.00" fill="#a2dbd2"/>
<rect x="1240.00" y="951.00" width="8.00" height="298.00" fill="#a2dbd2"/>
<rect x="1250.00" y="942.00" width="8.00" height="307.00" fill="#a2dbd2"/>
<rect x="1259.00" y="944.00" width="8.00" height="305.00" fill="#a2dbd2"/>
<rect x="1269.00" y="937.00" width="8.00" height="312.00" fill="#a2dbd2"/>
<rect x="1278.00" y="929.00" width="8.00" height="320.00" fill="#a2dbd2"/>
<rect x="1288.00" y="1011.00" width="8.00" height="238.00" fill="#a2dbd2"/>
<rect x="1297.00" y="1075.00" width="8.00" height="174.00" fill="#a2dbd2"/>
<rect x="1307.00" y="944.00" width="8.00" height="305.00" fill="#a2dbd2"/>
<rect x="1316.00" y="996.00" width="8.00" height="253.00" fill="#a2dbd2"/>
<rect x="1326.00" y="963.00" width="8.00" height="286.00" fill="#a2dbd2"/>
<rect x="1335.00" y="1061.00" width="8.00" height="188.00" fill="#a2dbd2"/>
<rect x="1345.00" y="995.00" width="8.00" height="254.00" fill="#a2dbd2"/>
<rect x="1354.00" y="1027.00" width="8.00" height="222.00" fill="#a2dbd2"/>
<rect x="1364.00" y="1017.00" width="8.00" height="232.00" fill="#a2dbd2"/>
<rect x="1373.00" y="954.00" width="8.00" height="295.00" fill="#a2dbd2"/>
<rect x="1383.00" y="914.00" width="8.00" height="335.00" fill="#a2dbd2"/>
<rect x="1392.00" y="881.00" width="8.00" height="368.00" fill="#a2dbd2"/>
<rect x="1402.00" y="870.00" width="8.00" height="379.00" fill="#a2dbd2"/>
<rect x="1412.00" y="892.00" width="7.00" height="357.00" fill="#a2dbd2"/>
<rect x="1421.00" y="910.00" width="8.00" height="339.00" fill="#a2dbd2"/>
<rect x="1431.00" y="1031.00" width="7.00" height="218.00" fill="#a2dbd2"/>
<rect x="1440.00" y="878.00" width="8.00" height="371.00" fill="#a2dbd2"/>
<rect x="1450.00" y="870.00" width="8.00" height="379.00" fill="#a2dbd2"/>
<rect x="1459.00" y="867.00" width="8.00" height="382.00" fill="#a2dbd2"/>
<rect x="1469.00" y="892.00" width="8.00" height="357.00" fill="#a2dbd2"/>
<rect x="1478.00" y="925.00" width="8.00" height="324.00" fill="#a2dbd2"/>
<rect x="1488.00" y="957.00" width="8.00" height="292.00" fill="#a2dbd2"/>
<rect x="1497.00" y="1061.00" width="8.00" height="188.00" fill="#a2dbd2"/>
<rect x="1507.00" y="957.00" width="8.00" height="292.00" fill="#a2dbd2"/>
<rect x="1516.00" y="908.00" width="8.00" height="341.00" fill="#a2dbd2"/>
<rect x="1526.00" y="972.00" width="8.00" height="277.00" fill="#a2dbd2"/>
<rect x="1535.00" y="938.00" width="8.00" height="311.00" fill="#a2dbd2"/>
<rect x="1545.00" y="892.00" width="8.00" height="357.00" fill="#a2dbd2"/>
<rect x="1554.00" y="947.00" width="8.00" height="302.00" fill="#a2dbd2"/>
<rect x="1564.00" y="1001.00" width="8.00" height="248.00" fill="#a2dbd2"/>
<rect x="1573.00" y="927.00" width="8.00" height="322.00" fill="#a2dbd2"/>
<rect x="1583.00" y="912.00" width="8.00" height="337.00" fill="#a2dbd2"/>
<rect x="1592.00" y="924.00" width="8.00" height="325.00" fill="#a2dbd2"/>
<rect x="1602.00" y="932.00" width="8.00" height="317.00" fill="#a2dbd2"/>
<rect x="1611.00" y="899.00" width="8.00" height="350.00" fill="#a2dbd2"/>
<rect x="1621.00" y="1005.00" width="8.00" height="244.00" fill="#a2dbd2"/>
<rect x="1630.00" y="1047.00" width="8.00" height="202.00" fill="#a2dbd2"/>
<rect x="1640.00" y="982.00" width="8.00" height="267.00" fill="#a2dbd2"/>
<rect x="1649.00" y="979.00" width="8.00" height="270.00" fill="#a2dbd2"/>
<rect x="1659.00" y="999.00" width="8.00" height="250.00" fill="#a2dbd2"/>
<rect x="1668.00" y="994.00" width="8.00" height="255.00" fill="#a2dbd2"/>
<rect x="1678.00" y="990.00" width="8.00" height="259.00" fill="#a2dbd2"/>
<rect x="1687.00" y="1070.00" width="8.00" height="179.00" fill="#a2dbd2"/>
<rect x="1697.00" y="1106.00" width="8.00" height="143.00" fill="#a2dbd2"/>
<rect x="1706.00" y="1057.00" width="8.00" height="192.00" fill="#a2dbd2"/>
<rect x="1716.00" y="1027.00" width="8.00" height="222.00" fill="#a2dbd2"/>
<rect x="1725.00" y="1003.00" width="8.00" height="246.00" fill="#a2dbd2"/>
<rect x="1735.00" y="1028.00" width="8.00" height="221.00" fill="#a2dbd2"/>
<rect x="1744.00" y="995.00" width="8.00" height="254.00" fill="#a2dbd2"/>
<rect x="1754.00" y="1092.00" width="8.00" height="157.00" fill="#a2dbd2"/>
<rect x="1763.00" y="1157.00" width="8.00" height="92.00" fill="#a2dbd2"/>
<rect x="1773.00" y="1080.00" width="8.00" height="169.00" fill="#a2dbd2"/>
<rect x="1782.00" y="1022.00" width="8.00" height="227.00" fill="#a2dbd2"/>
<rect x="1792.00" y="1040.00" width="8.00" height="209.00" fill="#a2dbd2"/>
<rect x="1802.00" y="1091.00" width="7.00" height="158.00" fill="#a2dbd2"/>
<rect x="1811.00" y="1031.00" width="8.00" height="218.00" fill="#a2dbd2"/>
<rect x="1821.00" y="1081.00" width="8.00" height="168.00" fill="#a2dbd2"/>
<rect x="1830.00" y="1132.00" width="8.00" height="117.00" fill="#a2dbd2"/>
<rect x="1840.00" y="1084.00" width="8.00" height="165.00" fill="#a2dbd2"/>
<rect x="1849.00" y="1060.00" width="8.00" height="189.00" fill="#a2dbd2"/>
<rect x="1859.00" y="1040.00" width="8.00" height="209.00" fill="#a2dbd2"/>
<rect x="1868.00" y="1043.00" width="8.00" height="206.00" fill="#a2dbd2"/>
<rect x="1878.00" y="960.00" width="8.00" height="289.00" fill="#a2dbd2"/>
<rect x="1887.00" y="1096.00" width="8.00" height="153.00" fill="#a2dbd2"/>
<rect x="1897.00" y="1108.00" width="8.00" height="141.00" fill="#a2dbd2"/>
<rect x="1906.00" y="1067.00" width="8.00" height="182.00" fill="#a2dbd2"/>
<rect x="1916.00" y="1054.00" width="8.00" height="195.00" fill="#a2dbd2"/>
<rect x="1925.00" y="987.00" width="8.00" height="262.00" fill="#a2dbd2"/>
<rect x="1935.00" y="1062.00" width="8.00" height="187.00" fill="#a2dbd2"/>
<rect x="1944.00" y="1058.00" width="8.00" height="191.00" fill="#a2dbd2"/>
<rect x="1954.00" y="1081.00" width="8.00" height="168.00" fill="#a2dbd2"/>
<rect x="1963.00" y="1081.00" width="8.00" height="168.00" fill="#a2dbd2"/>
<rect x="1973.00" y="1054.00" width="8.00" height="195.00" fill="#a2dbd2"/>
<rect x="1982.00" y="1038.00" width="8.00" height="211.00" fill="#a2dbd2"/>
<rect x="1992.00" y="1034.00" width="8.00" height="215.00" fill="#a2dbd2"/>
<rect x="2001.00" y="1020.00" width="8.00" height="229.00" fill="#a2dbd2"/>
<rect x="2011.00" y="997.00" width="8.00" height="252.00" fill="#a2dbd2"/>
<rect x="2020.00" y="1017.00" width="8.00" height="232.00" fill="#a2dbd2"/>
<rect x="2030.00" y="1076.00" width="8.00" height="173.00" fill="#a2dbd2"/>
<rect x="2039.00" y="938.00" width="8.00" height="311.00" fill="#a2dbd2"/>
<rect x="2049.00" y="916.00" width="8.00" height="333.00" fill="#a2dbd2"/>
<rect x="2058.00" y="904.00" width="8.00" height="345.00" fill="#a2dbd2"/>
<rect x="2068.00" y="925.00" width="8.00" height="324.00" fill="#a2dbd2"/>
<rect x="2077.00" y="931.00" width="8.00" height="318.00" fill="#a2dbd2"/>
<rect x="2087.00" y="980.00" width="8.00" height="269.00" fill="#a2dbd2"/>
<rect x="2096.00" y="1005.00" width="8.00" height="244.00" fill="#a2dbd2"/>
<rect x="2106.00" y="917.00" width="8.00" height="332.00" fill="#a2dbd2"/>
<rect x="2115.00" y="829.00" width="8.00" height="420.00" fill="#a2dbd2"/>
<rect x="2125.00" y="832.00" width="8.00" height="417.00" fill="#a2dbd2"/>
<rect x="2134.00" y="879.00" width="8.00" height="370.00" fill="#a2dbd2"/>
<rect x="2144.00" y="849.00" width="8.00" height="400.00" fill="#a2dbd2"/>
<rect x="2153.00" y="904.00" width="8.00" height="345.00" fill="#a2dbd2"/>
<rect x="2163.00" y="958.00" width="8.00" height="291.00" fill="#a2dbd2"/>
<rect x="2173.00" y="752.00" width="7.00" height="497.00" fill="#a2dbd2"/>
<rect x="2182.00" y="715.00" width="8.00" height="534.00" fill="#a2dbd2"/>
<rect x="2192.00" y="693.00" width="7.00" height="556.00" fill="#a2dbd2"/>
<rect x="2201.00" y="673.00" width="8.00" height="576.00" fill="#a2dbd2"/>
<rect x="2211.00" y="711.00" width="8.00" height="538.00" fill="#a2dbd2"/>
<rect x="2220.00" y="716.00" width="8.00" height="533.00" fill="#a2dbd2"/>
<rect x="2230.00" y="849.00" width="8.00" height="400.00" fill="#a2dbd2"/>
<rect x="2239.00" y="772.00" width="8.00" height="477.00" fill="#a2dbd2"/>
<rect x="2249.00" y="816.00" width="8.00" height="433.00" fill="#a2dbd2"/>
<rect x="2258.00" y="822.00" width="8.00" height="427.00" fill="#a2dbd2"/>
<rect x="2268.00" y="842.00" width="8.00" height="407.00" fill="#a2dbd2"/>
<rect x="2277.00" y="814.00" width="8.00" height="435.00" fill="#a2dbd2"/>
<rect x="346.00" y="1248.00" width="8.00" height="1.00" fill="#72b8b2"/>
<rect x="365.00" y="1249.00" width="8.00" height="0.00" fill="#72b8b2"/>
<rect x="384.00" y="1249.00" width="8.00" height="0.00" fill="#72b8b2"/>
<rect x="394.00" y="1249.00" width="8.00" height="0.00" fill="#72b8b2"/>
<rect x="403.00" y="1249.00" width="8.00" height="0.00" fill="#72b8b2"/>
<rect x="413.00" y="1248.00" width="8.00" height="1.00" fill="#72b8b2"/>
<rect x="422.00" y="1249.00" width="8.00" height="0.00" fill="#72b8b2"/>
<rect x="432.00" y="1248.00" width="8.00" height="1.00" fill="#72b8b2"/>
<rect x="441.00" y="1247.00" width="8.00" height="2.00" fill="#72b8b2"/>
<rect x="451.00" y="1249.00" width="8.00" height="0.00" fill="#72b8b2"/>
<rect x="460.00" y="1243.00" width="8.00" height="2.00" fill="#fefefe"/>
<rect x="460.00" y="1245.00" width="8.00" height="4.00" fill="#72b8b2"/>
<rect x="470.00" y="1234.00" width="8.00" height="2.00" fill="#fefefe"/>
<rect x="470.00" y="1236.00" width="8.00" height="13.00" fill="#72b8b2"/>
<rect x="479.00" y="1221.00" width="8.00" height="2.00" fill="#fefefe"/>
<rect x="479.00" y="1223.00" width="8.00" height="26.00" fill="#72b8b2"/>
<rect x="489.00" y="1225.00" width="8.00" height="2.00" fill="#fefefe"/>
<rect x="489.00" y="1227.00" width="8.00" height="22.00" fill="#72b8b2"/>
<rect x="498.00" y="1226.00" width="8.00" height="2.00" fill="#fefefe"/>
<rect x="498.00" y="1228.00" width="8.00" height="21.00" fill="#72b8b2"/>
<rect x="508.00" y="1205.00" width="8.00" height="2.00" fill="#fefefe"/>
<rect x="508.00" y="1207.00" width="8.00" height="42.00" fill="#72b8b2"/>
<rect x="517.00" y="1221.00" width="8.00" height="2.00" fill="#fefefe"/>
<rect x="517.00" y="1223.00" width="8.00" height="26.00" fill="#72b8b2"/>
<rect x="527.00" y="1196.00" width="8.00" height="2.00" fill="#fefefe"/>
<rect x="527.00" y="1198.00" width="8.00" height="51.00" fill="#72b8b2"/>
<rect x="536.00" y="1188.00" width="8.00" height="2.00" fill="#fefefe"/>
<rect x="536.00" y="1190.00" width="8.00" height="59.00" fill="#72b8b2"/>
<rect x="546.00" y="1180.00" width="8.00" height="2.00" fill="#fefefe"/>
<rect x="546.00" y="1182.00" width="8.00" height="67.00" fill="#72b8b2"/>
<rect x="555.00" y="1164.00" width="8.00" height="2.00" fill="#fefefe"/>
<rect x="555.00" y="1166.00" width="8.00" height="83.00" fill="#72b8b2"/>
<rect x="565.00" y="1157.00" width="8.00" height="2.00" fill="#fefefe"/>
<rect x="565.00" y="1159.00" width="8.00" height="90.00" fill="#72b8b2"/>
<rect x="574.00" y="1117.00" width="8.00" height="2.00" fill="#fefefe"/>
<rect x="574.00" y="1119.00" width="8.00" height="130.00" fill="#72b8b2"/>
<rect x="584.00" y="1072.00" width="8.00" height="2.00" fill="#fefefe"/>
<rect x="584.00" y="1074.00" width="8.00" height="175.00" fill="#72b8b2"/>
<rect x="593.00" y="1081.00" width="8.00" height="2.00" fill="#fefefe"/>
<rect x="593.00" y="1083.00" width="8.00" height="166.00" fill="#72b8b2"/>
<rect x="603.00" y="952.00" width="8.00" height="2.00" fill="#fefefe"/>
<rect x="603.00" y="954.00" width="8.00" height="295.00" fill="#72b8b2"/>
<rect x="612.00" y="943.00" width="8.00" height="2.00" fill="#fefefe"/>
<rect x="612.00" y="945.00" width="8.00" height="304.00" fill="#72b8b2"/>
<rect x="622.00" y="1016.00" width="8.00" height="2.00" fill="#fefefe"/>
<rect x="622.00" y="1018.00" width="8.00" height="231.00" fill="#72b8b2"/>
<rect x="631.00" y="1140.00" width="8.00" height="2.00" fill="#fefefe"/>
<rect x="631.00" y="1142.00" width="8.00" height="107.00" fill="#72b8b2"/>
<rect x="641.00" y="936.00" width="8.00" height="2.00" fill="#fefefe"/>
<rect x="641.00" y="938.00" width="8.00" height="311.00" fill="#72b8b2"/>
<rect x="651.00" y="969.00" width="7.00" height="2.00" fill="#fefefe"/>
<rect x="651.00" y="971.00" width="7.00" height="278.00" fill="#72b8b2"/>
<rect x="660.00" y="1009.00" width="8.00" height="2.00" fill="#fefefe"/>
<rect x="660.00" y="1011.00" width="8.00" height="238.00" fill="#72b8b2"/>
<rect x="670.00" y="964.00" width="7.00" height="2.00" fill="#fefefe"/>
<rect x="670.00" y="966.00" width="7.00" height="283.00" fill="#72b8b2"/>
<rect x="679.00" y="1052.00" width="8.00" height="2.00" fill="#fefefe"/>
<rect x="679.00" y="1054.00" width="8.00" height="195.00" fill="#72b8b2"/>
<rect x="689.00" y="1005.00" width="8.00" height="2.00" fill="#fefefe"/>
<rect x="689.00" y="1007.00" width="8.00" height="242.00" fill="#72b8b2"/>
<rect x="698.00" y="1086.00" width="8.00" height="2.00" fill="#fefefe"/>
<rect x="698.00" y="1088.00" width="8.00" height="161.00" fill="#72b8b2"/>
<rect x="708.00" y="977.00" width="8.00" height="2.00" fill="#fefefe"/>
<rect x="708.00" y="979.00" width="8.00" height="270.00" fill="#72b8b2"/>
<rect x="717.00" y="1012.00" width="8.00" height="2.00" fill="#fefefe"/>
<rect x="717.00" y="1014.00" width="8.00" height="235.00" fill="#72b8b2"/>
<rect x="727.00" y="965.00" width="8.00" height="2.00" fill="#fefefe"/>
<rect x="727.00" y="967.00" width="8.00" height="282.00" fill="#72b8b2"/>
<rect x="736.00" y="970.00" width="8.00" height="2.00" fill="#fefefe"/>
<rect x="736.00" y="972.00" width="8.00" height="277.00" fill="#72b8b2"/>
<rect x="746.00" y="1005.00" width="8.00" height="2.00" fill="#fefefe"/>
<rect x="746.00" y="1007.00" width="8.00" height="242.00" fill="#72b8b2"/>
<rect x="755.00" y="1037.00" width="8.00" height="2.00" fill="#fefefe"/>
<rect x="755.00" y="1039.00" width="8.00" height="210.00" fill="#72b8b2"/>
<rect x="765.00" y="1096.00" width="8.00" height="2.00" fill="#fefefe"/>
<rect x="765.00" y="1098.00" width="8.00" height="151.00" fill="#72b8b2"/>
<rect x="774.00" y="970.00" width="8.00" height="2.00" fill="#fefefe"/>
<rect x="774.00" y="972.00" width="8.00" height="277.00" fill="#72b8b2"/>
<rect x="784.00" y="1005.00" width="8.00" height="2.00" fill="#fefefe"/>
<rect x="784.00" y="1007.00" width="8.00" height="242.00" fill="#72b8b2"/>
<rect x="793.00" y="1073.00" width="8.00" height="2.00" fill="#fefefe"/>
<rect x="793.00" y="1075.00" width="8.00" height="174.00" fill="#72b8b2"/>
<rect x="803.00" y="1081.00" width="8.00" height="2.00" fill="#fefefe"/>
<rect x="803.00" y="1083.00" width="8.00" height="166.00" fill="#72b8b2"/>
<rect x="812.00" y="1024.00" width="8.00" height="2.00" fill="#fefefe"/>
<rect x="812.00" y="1026.00" width="8.00" height="223.00" fill="#72b8b2"/>
<rect x="822.00" y="1113.00" width="8.00" height="2.00" fill="#fefefe"/>
<rect x="822.00" y="1115.00" width="8.00" height="134.00" fill="#72b8b2"/>
<rect x="831.00" y="1034.00" width="8.00" height="2.00" fill="#fefefe"/>
<rect x="831.00" y="1036.00" width="8.00" height="213.00" fill="#72b8b2"/>
<rect x="841.00" y="946.00" width="8.00" height="2.00" fill="#fefefe"/>
<rect x="841.00" y="948.00" width="8.00" height="301.00" fill="#72b8b2"/>
<rect x="850.00" y="1011.00" width="8.00" height="2.00" fill="#fefefe"/>
<rect x="850.00" y="1013.00" width="8.00" height="236.00" fill="#72b8b2"/>
<rect x="860.00" y="1024.00" width="8.00" height="2.00" fill="#fefefe"/>
<rect x="860.00" y="1026.00" width="8.00" height="223.00" fill="#72b8b2"/>
<rect x="869.00" y="1099.00" width="8.00" height="2.00" fill="#fefefe"/>
<rect x="869.00" y="1101.00" width="8.00" height="148.00" fill="#72b8b2"/>
<rect x="879.00" y="1096.00" width="8.00" height="2.00" fill="#fefefe"/>
<rect x="879.00" y="1098.00" width="8.00" height="151.00" fill="#72b8b2"/>
<rect x="888.00" y="1106.00" width="8.00" height="2.00" fill="#fefefe"/>
<rect x="888.00" y="1108.00" width="8.00" height="141.00" fill="#72b8b2"/>
<rect x="898.00" y="1181.00" width="8.00" height="2.00" fill="#fefefe"/>
<rect x="898.00" y="1183.00" width="8.00" height="66.00" fill="#72b8b2"/>
<rect x="907.00" y="1111.00" width="8.00" height="2.00" fill="#fefefe"/>
<rect x="907.00" y="1113.00" width="8.00" height="136.00" fill="#72b8b2"/>
<rect x="917.00" y="1095.00" width="8.00" height="2.00" fill="#fefefe"/>
<rect x="917.00" y="1097.00" width="8.00" height="152.00" fill="#72b8b2"/>
<rect x="926.00" y="1126.00" width="8.00" height="2.00" fill="#fefefe"/>
<rect x="926.00" y="1128.00" width="8.00" height="121.00" fill="#72b8b2"/>
<rect x="936.00" y="1049.00" width="8.00" height="2.00" fill="#fefefe"/>
<rect x="936.00" y="1051.00" width="8.00" height="198.00" fill="#72b8b2"/>
<rect x="945.00" y="1122.00" width="8.00" height="2.00" fill="#fefefe"/>
<rect x="945.00" y="1124.00" width="8.00" height="125.00" fill="#72b8b2"/>
<rect x="955.00" y="1168.00" width="8.00" height="2.00" fill="#fefefe"/>
<rect x="955.00" y="1170.00" width="8.00" height="79.00" fill="#72b8b2"/>
<rect x="964.00" y="1178.00" width="8.00" height="2.00" fill="#fefefe"/>
<rect x="964.00" y="1180.00" width="8.00" height="69.00" fill="#72b8b2"/>
<rect x="974.00" y="1141.00" width="8.00" height="2.00" fill="#fefefe"/>
<rect x="974.00" y="1143.00" width="8.00" height="106.00" fill="#72b8b2"/>
<rect x="983.00" y="901.00" width="8.00" height="2.00" fill="#fefefe"/>
<rect x="983.00" y="903.00" width="8.00" height="346.00" fill="#72b8b2"/>
<rect x="993.00" y="1066.00" width="8.00" height="2.00" fill="#fefefe"/>
<rect x="993.00" y="1068.00" width="8.00" height="181.00" fill="#72b8b2"/>
<rect x="1002.00" y="1134.00" width="8.00" height="2.00" fill="#fefefe"/>
<rect x="1002.00" y="1136.00" width="8.00" height="113.00" fill="#72b8b2"/>
<rect x="1012.00" y="1081.00" width="8.00" height="2.00" fill="#fefefe"/>
<rect x="1012.00" y="1083.00" width="8.00" height="166.00" fill="#72b8b2"/>
<rect x="1021.00" y="1139.00" width="8.00" height="2.00" fill="#fefefe"/>
<rect x="1021.00" y="1141.00" width="8.00" height="108.00" fill="#72b8b2"/>
<rect x="1031.00" y="1181.00" width="8.00" height="2.00" fill="#fefefe"/>
<rect x="1031.00" y="1183.00" width="8.00" height="66.00" fill="#72b8b2"/>
<rect x="1041.00" y="1138.00" width="7.00" height="2.00" fill="#fefefe"/>
<rect x="1041.00" y="1140.00" width="7.00" height="109.00" fill="#72b8b2"/>
<rect x="1050.00" y="1138.00" width="8.00" height="2.00" fill="#fefefe"/>
<rect x="1050.00" y="1140.00" width="8.00" height="109.00" fill="#72b8b2"/>
<rect x="1060.00" y="1138.00" width="8.00" height="2.00" fill="#fefefe"/>
<rect x="1060.00" y="1140.00" width="8.00" height="109.00" fill="#72b8b2"/>
<rect x="1069.00" y="1124.00" width="8.00" height="2.00" fill="#fefefe"/>
<rect x="1069.00" y="1126.00" width="8.00" height="123.00" fill="#72b8b2"/>
<rect x="1079.00" y="1113.00" width="8.00" height="2.00" fill="#fefefe"/>
<rect x="1079.00" y="1115.00" width="8.00" height="134.00" fill="#72b8b2"/>
<rect x="1088.00" y="1141.00" width="8.00" height="2.00" fill="#fefefe"/>
<rect x="1088.00" y="1143.00" width="8.00" height="106.00" fill="#72b8b2"/>
<rect x="1098.00" y="1202.00" width="8.00" height="2.00" fill="#fefefe"/>
<rect x="1098.00" y="1204.00" width="8.00" height="45.00" fill="#72b8b2"/>
<rect x="1107.00" y="1170.00" width="8.00" height="2.00" fill="#fefefe"/>
<rect x="1107.00" y="1172.00" width="8.00" height="77.00" fill="#72b8b2"/>
<rect x="1117.00" y="1147.00" width="8.00" height="2.00" fill="#fefefe"/>
<rect x="1117.00" y="1149.00" width="8.00" height="100.00" fill="#72b8b2"/>
<rect x="1126.00" y="1120.00" width="8.00" height="2.00" fill="#fefefe"/>
<rect x="1126.00" y="1122.00" width="8.00" height="127.00" fill="#72b8b2"/>
<rect x="1136.00" y="1129.00" width="8.00" height="2.00" fill="#fefefe"/>
<rect x="1136.00" y="1131.00" width="8.00" height="118.00" fill="#72b8b2"/>
<rect x="1145.00" y="1157.00" width="8.00" height="2.00" fill="#fefefe"/>
<rect x="1145.00" y="1159.00" width="8.00" height="90.00" fill="#72b8b2"/>
<rect x="1155.00" y="1185.00" width="8.00" height="2.00" fill="#fefefe"/>
<rect x="1155.00" y="1187.00" width="8.00" height="62.00" fill="#72b8b2"/>
<rect x="1164.00" y="1188.00" width="8.00" height="2.00" fill="#fefefe"/>
<rect x="1164.00" y="1190.00" width="8.00" height="59.00" fill="#72b8b2"/>
<rect x="1174.00" y="1134.00" width="8.00" height="2.00" fill="#fefefe"/>
<rect x="1174.00" y="1136.00" width="8.00" height="113.00" fill="#72b8b2"/>
<rect x="1183.00" y="1113.00" width="8.00" height="2.00" fill="#fefefe"/>
<rect x="1183.00" y="1115.00" width="8.00" height="134.00" fill="#72b8b2"/>
<rect x="1193.00" y="1128.00" width="8.00" height="2.00" fill="#fefefe"/>
<rect x="1193.00" y="1130.00" width="8.00" height="119.00" fill="#72b8b2"/>
<rect x="1202.00" y="1135.00" width="8.00" height="2.00" fill="#fefefe"/>
<rect x="1202.00" y="1137.00" width="8.00" height="112.00" fill="#72b8b2"/>
<rect x="1212.00" y="1135.00" width="8.00" height="2.00" fill="#fefefe"/>
<rect x="1212.00" y="1137.00" width="8.00" height="112.00" fill="#72b8b2"/>
<rect x="1221.00" y="1156.00" width="8.00" height="2.00" fill="#fefefe"/>
<rect x="1221.00" y="1158.00" width="8.00" height="91.00" fill="#72b8b2"/>
<rect x="1231.00" y="1184.00" width="8.00" height="2.00" fill="#fefefe"/>
<rect x="1231.00" y="1186.00" width="8.00" height="63.00" fill="#72b8b2"/>
<rect x="1240.00" y="1129.00" width="8.00" height="2.00" fill="#fefefe"/>
<rect x="1240.00" y="1131.00" width="8.00" height="118.00" fill="#72b8b2"/>
<rect x="1250.00" y="1089.00" width="8.00" height="2.00" fill="#fefefe"/>
<rect x="1250.00" y="1091.00" width="8.00" height="158.00" fill="#72b8b2"/>
<rect x="1259.00" y="1090.00" width="8.00" height="2.00" fill="#fefefe"/>
<rect x="1259.00" y="1092.00" width="8.00" height="157.00" fill="#72b8b2"/>
<rect x="1269.00" y="1077.00" width="8.00" height="2.00" fill="#fefefe"/>
<rect x="1269.00" y="1079.00" width="8.00" height="170.00" fill="#72b8b2"/>
<rect x="1278.00" y="1066.00" width="8.00" height="2.00" fill="#fefefe"/>
<rect x="1278.00" y="1068.00" width="8.00" height="181.00" fill="#72b8b2"/>
<rect x="1288.00" y="1145.00" width="8.00" height="2.00" fill="#fefefe"/>
<rect x="1288.00" y="1147.00" width="8.00" height="102.00" fill="#72b8b2"/>
<rect x="1297.00" y="1184.00" width="8.00" height="2.00" fill="#fefefe"/>
<rect x="1297.00" y="1186.00" width="8.00" height="63.00" fill="#72b8b2"/>
<rect x="1307.00" y="1076.00" width="8.00" height="2.00" fill="#fefefe"/>
<rect x="1307.00" y="1078.00" width="8.00" height="171.00" fill="#72b8b2"/>
<rect x="1316.00" y="1118.00" width="8.00" height="2.00" fill="#fefefe"/>
<rect x="1316.00" y="1120.00" width="8.00" height="129.00" fill="#72b8b2"/>
<rect x="1326.00" y="1124.00" width="8.00" height="2.00" fill="#fefefe"/>
<rect x="1326.00" y="1126.00" width="8.00" height="123.00" fill="#72b8b2"/>
<rect x="1335.00" y="1183.00" width="8.00" height="2.00" fill="#fefefe"/>
<rect x="1335.00" y="1185.00" width="8.00" height="64.00" fill="#72b8b2"/>
<rect x="1345.00" y="1129.00" width="8.00" height="2.00" fill="#fefefe"/>
<rect x="1345.00" y="1131.00" width="8.00" height="118.00" fill="#72b8b2"/>
<rect x="1354.00" y="1161.00" width="8.00" height="2.00" fill="#fefefe"/>
<rect x="1354.00" y="1163.00" width="8.00" height="86.00" fill="#72b8b2"/>
<rect x="1364.00" y="1166.00" width="8.00" height="2.00" fill="#fefefe"/>
<rect x="1364.00" y="1168.00" width="8.00" height="81.00" fill="#72b8b2"/>
<rect x="1373.00" y="1154.00" width="8.00" height="2.00" fill="#fefefe"/>
<rect x="1373.00" y="1156.00" width="8.00" height="93.00" fill="#72b8b2"/>
<rect x="1383.00" y="1103.00" width="8.00" height="2.00" fill="#fefefe"/>
<rect x="1383.00" y="1105.00" width="8.00" height="144.00" fill="#72b8b2"/>
<rect x="1392.00" y="1089.00" width="8.00" height="2.00" fill="#fefefe"/>
<rect x="1392.00" y="1091.00" width="8.00" height="158.00" fill="#72b8b2"/>
<rect x="1402.00" y="1059.00" width="8.00" height="2.00" fill="#fefefe"/>
<rect x="1402.00" y="1061.00" width="8.00" height="188.00" fill="#72b8b2"/>
<rect x="1412.00" y="1076.00" width="7.00" height="2.00" fill="#fefefe"/>
<rect x="1412.00" y="1078.00" width="7.00" height="171.00" fill="#72b8b2"/>
<rect x="1421.00" y="1067.00" width="8.00" height="2.00" fill="#fefefe"/>
<rect x="1421.00" y="1069.00" width="8.00" height="180.00" fill="#72b8b2"/>
<rect x="1431.00" y="1179.00" width="7.00" height="2.00" fill="#fefefe"/>
<rect x="1431.00" y="1181.00" width="7.00" height="68.00" fill="#72b8b2"/>
<rect x="1440.00" y="1122.00" width="8.00" height="2.00" fill="#fefefe"/>
<rect x="1440.00" y="1124.00" width="8.00" height="125.00" fill="#72b8b2"/>
<rect x="1450.00" y="1060.00" width="8.00" height="2.00" fill="#fefefe"/>
<rect x="1450.00" y="1062.00" width="8.00" height="187.00" fill="#72b8b2"/>
<rect x="1459.00" y="1069.00" width="8.00" height="2.00" fill="#fefefe"/>
<rect x="1459.00" y="1071.00" width="8.00" height="178.00" fill="#72b8b2"/>
<rect x="1469.00" y="1045.00" width="8.00" height="2.00" fill="#fefefe"/>
<rect x="1469.00" y="1047.00" width="8.00" height="202.00" fill="#72b8b2"/>
<rect x="1478.00" y="1093.00" width="8.00" height="2.00" fill="#fefefe"/>
<rect x="1478.00" y="1095.00" width="8.00" height="154.00" fill="#72b8b2"/>
<rect x="1488.00" y="1099.00" width="8.00" height="2.00" fill="#fefefe"/>
<rect x="1488.00" y="1101.00" width="8.00" height="148.00" fill="#72b8b2"/>
<rect x="1497.00" y="1186.00" width="8.00" height="2.00" fill="#fefefe"/>
<rect x="1497.00" y="1188.00" width="8.00" height="61.00" fill="#72b8b2"/>
<rect x="1507.00" y="1142.00" width="8.00" height="2.00" fill="#fefefe"/>
<rect x="1507.00" y="1144.00" width="8.00" height="105.00" fill="#72b8b2"/>
<rect x="1516.00" y="1072.00" width="8.00" height="2.00" fill="#fefefe"/>
<rect x="1516.00" y="1074.00" width="8.00" height="175.00" fill="#72b8b2"/>
<rect x="1526.00" y="1138.00" width="8.00" height="2.00" fill="#fefefe"/>
<rect x="1526.00" y="1140.00" width="8.00" height="109.00" fill="#72b8b2"/>
<rect x="1535.00" y="1107.00" width="8.00" height="2.00" fill="#fefefe"/>
<rect x="1535.00" y="1109.00" width="8.00" height="140.00" fill="#72b8b2"/>
<rect x="1545.00" y="1064.00" width="8.00" height="2.00" fill="#fefefe"/>
<rect x="1545.00" y="1066.00" width="8.00" height="183.00" fill="#72b8b2"/>
<rect x="1554.00" y="1117.00" width="8.00" height="2.00" fill="#fefefe"/>
<rect x="1554.00" y="1119.00" width="8.00" height="130.00" fill="#72b8b2"/>
<rect x="1564.00" y="1149.00" width="8.00" height="2.00" fill="#fefefe"/>
<rect x="1564.00" y="1151.00" width="8.00" height="98.00" fill="#72b8b2"/>
<rect x="1573.00" y="1119.00" width="8.00" height="2.00" fill="#fefefe"/>
<rect x="1573.00" y="1121.00" width="8.00" height="128.00" fill="#72b8b2"/>
<rect x="1583.00" y="1062.00" width="8.00" height="2.00" fill="#fefefe"/>
<rect x="1583.00" y="1064.00" width="8.00" height="185.00" fill="#72b8b2"/>
<rect x="1592.00" y="1095.00" width="8.00" height="2.00" fill="#fefefe"/>
<rect x="1592.00" y="1097.00" width="8.00" height="152.00" fill="#72b8b2"/>
<rect x="1602.00" y="1089.00" width="8.00" height="2.00" fill="#fefefe"/>
<rect x="1602.00" y="1091.00" width="8.00" height="158.00" fill="#72b8b2"/>
<rect x="1611.00" y="1065.00" width="8.00" height="2.00" fill="#fefefe"/>
<rect x="1611.00" y="1067.00" width="8.00" height="182.00" fill="#72b8b2"/>
<rect x="1621.00" y="1128.00" width="8.00" height="2.00" fill="#fefefe"/>
<rect x="1621.00" y="1130.00" width="8.00" height="119.00" fill="#72b8b2"/>
<rect x="1630.00" y="1164.00" width="8.00" height="2.00" fill="#fefefe"/>
<rect x="1630.00" y="1166.00" width="8.00" height="83.00" fill="#72b8b2"/>
<rect x="1640.00" y="1123.00" width="8.00" height="2.00" fill="#fefefe"/>
<rect x="1640.00" y="1125.00" width="8.00" height="124.00" fill="#72b8b2"/>
<rect x="1649.00" y="1097.00" width="8.00" height="2.00" fill="#fefefe"/>
<rect x="1649.00" y="1099.00" width="8.00" height="150.00" fill="#72b8b2"/>
<rect x="1659.00" y="1123.00" width="8.00" height="2.00" fill="#fefefe"/>
<rect x="1659.00" y="1125.00" width="8.00" height="124.00" fill="#72b8b2"/>
<rect x="1668.00" y="1096.00" width="8.00" height="2.00" fill="#fefefe"/>
<rect x="1668.00" y="1098.00" width="8.00" height="151.00" fill="#72b8b2"/>
<rect x="1678.00" y="1116.00" width="8.00" height="2.00" fill="#fefefe"/>
<rect x="1678.00" y="1118.00" width="8.00" height="131.00" fill="#72b8b2"/>
<rect x="1687.00" y="1155.00" width="8.00" height="2.00" fill="#fefefe"/>
<rect x="1687.00" y="1157.00" width="8.00" height="92.00" fill="#72b8b2"/>
<rect x="1697.00" y="1195.00" width="8.00" height="2.00" fill="#fefefe"/>
<rect x="1697.00" y="1197.00" width="8.00" height="52.00" fill="#72b8b2"/>
<rect x="1706.00" y="1182.00" width="8.00" height="2.00" fill="#fefefe"/>
<rect x="1706.00" y="1184.00" width="8.00" height="65.00" fill="#72b8b2"/>
<rect x="1716.00" y="1125.00" width="8.00" height="2.00" fill="#fefefe"/>
<rect x="1716.00" y="1127.00" width="8.00" height="122.00" fill="#72b8b2"/>
<rect x="1725.00" y="1119.00" width="8.00" height="2.00" fill="#fefefe"/>
<rect x="1725.00" y="1121.00" width="8.00" height="128.00" fill="#72b8b2"/>
<rect x="1735.00" y="1120.00" width="8.00" height="2.00" fill="#fefefe"/>
<rect x="1735.00" y="1122.00" width="8.00" height="127.00" fill="#72b8b2"/>
<rect x="1744.00" y="1105.00" width="8.00" height="2.00" fill="#fefefe"/>
<rect x="1744.00" y="1107.00" width="8.00" height="142.00" fill="#72b8b2"/>
<rect x="1754.00" y="1157.00" width="8.00" height="2.00" fill="#fefefe"/>
<rect x="1754.00" y="1159.00" width="8.00" height="90.00" fill="#72b8b2"/>
<rect x="1763.00" y="1216.00" width="8.00" height="2.00" fill="#fefefe"/>
<rect x="1763.00" y="1218.00" width="8.00" height="31.00" fill="#72b8b2"/>
<rect x="1773.00" y="1182.00" width="8.00" height="2.00" fill="#fefefe"/>
<rect x="1773.00" y="1184.00" width="8.00" height="65.00" fill="#72b8b2"/>
<rect x="1782.00" y="1106.00" width="8.00" height="2.00" fill="#fefefe"/>
<rect x="1782.00" y="1108.00" width="8.00" height="141.00" fill="#72b8b2"/>
<rect x="1792.00" y="1117.00" width="8.00" height="2.00" fill="#fefefe"/>
<rect x="1792.00" y="1119.00" width="8.00" height="130.00" fill="#72b8b2"/>
<rect x="1802.00" y="1162.00" width="7.00" height="2.00" fill="#fefefe"/>
<rect x="1802.00" y="1164.00" width="7.00" height="85.00" fill="#72b8b2"/>
<rect x="1811.00" y="1113.00" width="8.00" height="2.00" fill="#fefefe"/>
<rect x="1811.00" y="1115.00" width="8.00" height="134.00" fill="#72b8b2"/>
<rect x="1821.00" y="1175.00" width="8.00" height="2.00" fill="#fefefe"/>
<rect x="1821.00" y="1177.00" width="8.00" height="72.00" fill="#72b8b2"/>
<rect x="1830.00" y="1210.00" width="8.00" height="2.00" fill="#fefefe"/>
<rect x="1830.00" y="1212.00" width="8.00" height="37.00" fill="#72b8b2"/>
<rect x="1840.00" y="1183.00" width="8.00" height="2.00" fill="#fefefe"/>
<rect x="1840.00" y="1185.00" width="8.00" height="64.00" fill="#72b8b2"/>
<rect x="1849.00" y="1155.00" width="8.00" height="2.00" fill="#fefefe"/>
<rect x="1849.00" y="1157.00" width="8.00" height="92.00" fill="#72b8b2"/>
<rect x="1859.00" y="1140.00" width="8.00" height="2.00" fill="#fefefe"/>
<rect x="1859.00" y="1142.00" width="8.00" height="107.00" fill="#72b8b2"/>
<rect x="1868.00" y="1138.00" width="8.00" height="2.00" fill="#fefefe"/>
<rect x="1868.00" y="1140.00" width="8.00" height="109.00" fill="#72b8b2"/>
<rect x="1878.00" y="1088.00" width="8.00" height="2.00" fill="#fefefe"/>
<rect x="1878.00" y="1090.00" width="8.00" height="159.00" fill="#72b8b2"/>
<rect x="1887.00" y="1192.00" width="8.00" height="2.00" fill="#fefefe"/>
<rect x="1887.00" y="1194.00" width="8.00" height="55.00" fill="#72b8b2"/>
<rect x="1897.00" y="1205.00" width="8.00" height="2.00" fill="#fefefe"/>
<rect x="1897.00" y="1207.00" width="8.00" height="42.00" fill="#72b8b2"/>
<rect x="1906.00" y="1172.00" width="8.00" height="2.00" fill="#fefefe"/>
<rect x="1906.00" y="1174.00" width="8.00" height="75.00" fill="#72b8b2"/>
<rect x="1916.00" y="1149.00" width="8.00" height="2.00" fill="#fefefe"/>
<rect x="1916.00" y="1151.00" width="8.00" height="98.00" fill="#72b8b2"/>
<rect x="1925.00" y="1103.00" width="8.00" height="2.00" fill="#fefefe"/>
<rect x="1925.00" y="1105.00" width="8.00" height="144.00" fill="#72b8b2"/>
<rect x="1935.00" y="1142.00" width="8.00" height="2.00" fill="#fefefe"/>
<rect x="1935.00" y="1144.00" width="8.00" height="105.00" fill="#72b8b2"/>
<rect x="1944.00" y="1140.00" width="8.00" height="2.00" fill="#fefefe"/>
<rect x="1944.00" y="1142.00" width="8.00" height="107.00" fill="#72b8b2"/>
<rect x="1954.00" y="1188.00" width="8.00" height="2.00" fill="#fefefe"/>
<rect x="1954.00" y="1190.00" width="8.00" height="59.00" fill="#72b8b2"/>
<rect x="1963.00" y="1163.00" width="8.00" height="2.00" fill="#fefefe"/>
<rect x="1963.00" y="1165.00" width="8.00" height="84.00" fill="#72b8b2"/>
<rect x="1973.00" y="1173.00" width="8.00" height="2.00" fill="#fefefe"/>
<rect x="1973.00" y="1175.00" width="8.00" height="74.00" fill="#72b8b2"/>
<rect x="1982.00" y="1161.00" width="8.00" height="2.00" fill="#fefefe"/>
<rect x="1982.00" y="1163.00" width="8.00" height="86.00" fill="#72b8b2"/>
<rect x="1992.00" y="1148.00" width="8.00" height="2.00" fill="#fefefe"/>
<rect x="1992.00" y="1150.00" width="8.00" height="99.00" fill="#72b8b2"/>
<rect x="2001.00" y="1147.00" width="8.00" height="2.00" fill="#fefefe"/>
<rect x="2001.00" y="1149.00" width="8.00" height="100.00" fill="#72b8b2"/>
<rect x="2011.00" y="1142.00" width="8.00" height="2.00" fill="#fefefe"/>
<rect x="2011.00" y="1144.00" width="8.00" height="105.00" fill="#72b8b2"/>
<rect x="2020.00" y="1177.00" width="8.00" height="2.00" fill="#fefefe"/>
<rect x="2020.00" y="1179.00" width="8.00" height="70.00" fill="#72b8b2"/>
<rect x="2030.00" y="1204.00" width="8.00" height="2.00" fill="#fefefe"/>
<rect x="2030.00" y="1206.00" width="8.00" height="43.00" fill="#72b8b2"/>
<rect x="2039.00" y="1147.00" width="8.00" height="2.00" fill="#fefefe"/>
<rect x="2039.00" y="1149.00" width="8.00" height="100.00" fill="#72b8b2"/>
<rect x="2049.00" y="1107.00" width="8.00" height="2.00" fill="#fefefe"/>
<rect x="2049.00" y="1109.00" width="8.00" height="140.00" fill="#72b8b2"/>
<rect x="2058.00" y="1078.00" width="8.00" height="2.00" fill="#fefefe"/>
<rect x="2058.00" y="1080.00" width="8.00" height="169.00" fill="#72b8b2"/>
<rect x="2068.00" y="1101.00" width="8.00" height="2.00" fill="#fefefe"/>
<rect x="2068.00" y="1103.00" width="8.00" height="146.00" fill="#72b8b2"/>
<rect x="2077.00" y="1111.00" width="8.00" height="2.00" fill="#fefefe"/>
<rect x="2077.00" y="1113.00" width="8.00" height="136.00" fill="#72b8b2"/>
<rect x="2087.00" y="1147.00" width="8.00" height="2.00" fill="#fefefe"/>
<rect x="2087.00" y="1149.00" width="8.00" height="100.00" fill="#72b8b2"/>
<rect x="2096.00" y="1192.00" width="8.00" height="2.00" fill="#fefefe"/>
<rect x="2096.00" y="1194.00" width="8.00" height="55.00" fill="#72b8b2"/>
<rect x="2106.00" y="1154.00" width="8.00" height="2.00" fill="#fefefe"/>
<rect x="2106.00" y="1156.00" width="8.00" height="93.00" fill="#72b8b2"/>
<rect x="2115.00" y="1086.00" width="8.00" height="2.00" fill="#fefefe"/>
<rect x="2115.00" y="1088.00" width="8.00" height="161.00" fill="#72b8b2"/>
<rect x="2125.00" y="1096.00" width="8.00" height="2.00" fill="#fefefe"/>
<rect x="2125.00" y="1098.00" width="8.00" height="151.00" fill="#72b8b2"/>
<rect x="2134.00" y="1112.00" width="8.00" height="2.00" fill="#fefefe"/>
<rect x="2134.00" y="1114.00" width="8.00" height="135.00" fill="#72b8b2"/>
<rect x="2144.00" y="1101.00" width="8.00" height="2.00" fill="#fefefe"/>
<rect x="2144.00" y="1103.00" width="8.00" height="146.00" fill="#72b8b2"/>
<rect x="2153.00" y="1126.00" width="8.00" height="2.00" fill="#fefefe"/>
<rect x="2153.00" y="1128.00" width="8.00" height="121.00" fill="#72b8b2"/>
<rect x="2163.00" y="1169.00" width="8.00" height="2.00" fill="#fefefe"/>
<rect x="2163.00" y="1171.00" width="8.00" height="78.00" fill="#72b8b2"/>
<rect x="2173.00" y="1071.00" width="7.00" height="2.00" fill="#fefefe"/>
<rect x="2173.00" y="1073.00" width="7.00" height="176.00" fill="#72b8b2"/>
<rect x="2182.00" y="1001.00" width="8.00" height="2.00" fill="#fefefe"/>
<rect x="2182.00" y="1003.00" width="8.00" height="246.00" fill="#72b8b2"/>
<rect x="2192.00" y="979.00" width="7.00" height="2.00" fill="#fefefe"/>
<rect x="2192.00" y="981.00" width="7.00" height="268.00" fill="#72b8b2"/>
<rect x="2201.00" y="966.00" width="8.00" height="2.00" fill="#fefefe"/>
<rect x="2201.00" y="968.00" width="8.00" height="281.00" fill="#72b8b2"/>
<rect x="2211.00" y="989.00" width="8.00" height="2.00" fill="#fefefe"/>
<rect x="2211.00" y="991.00" width="8.00" height="258.00" fill="#72b8b2"/>
<rect x="2220.00" y="955.00" width="8.00" height="2.00" fill="#fefefe"/>
<rect x="2220.00" y="957.00" width="8.00" height="292.00" fill="#72b8b2"/>
<rect x="2230.00" y="1056.00" width="8.00" height="2.00" fill="#fefefe"/>
<rect x="2230.00" y="1058.00" width="8.00" height="191.00" fill="#72b8b2"/>
<rect x="2239.00" y="989.00" width="8.00" height="2.00" fill="#fefefe"/>
<rect x="2239.00" y="991.00" width="8.00" height="258.00" fill="#72b8b2"/>
<rect x="2249.00" y="963.00" width="8.00" height="2.00" fill="#fefefe"/>
<rect x="2249.00" y="965.00" width="8.00" height="284.00" fill="#72b8b2"/>
<rect x="2258.00" y="929.00" width="8.00" height="2.00" fill="#fefefe"/>
<rect x="2258.00" y="931.00" width="8.00" height="318.00" fill="#72b8b2"/>
<rect x="2268.00" y="891.00" width="8.00" height="2.00" fill="#fefefe"/>
<rect x="2268.00" y="893.00" width="8.00" height="356.00" fill="#72b8b2"/>
<rect x="2277.00" y="815.00" width="8.00" height="2.00" fill="#fefefe"/>
<rect x="2277.00" y="817.00" width="8.00" height="432.00" fill="#72b8b2"/>
</g>
<rect x="230.00" y="562.00" width="2.10" height="689.10" fill="#000"/>
<rect x="230.00" y="1249.10" width="2056.50" height="2.00" fill="#000"/>
<rect x="230.10" y="1250.10" width="1.80" height="4.80" fill="#333"/>
<rect x="249.12" y="1250.10" width="1.80" height="4.80" fill="#333"/>
<rect x="268.15" y="1250.10" width="1.80" height="4.80" fill="#333"/>
<rect x="287.18" y="1250.10" width="1.80" height="4.80" fill="#333"/>
<rect x="306.20" y="1250.10" width="1.80" height="4.80" fill="#333"/>
<rect x="325.23" y="1250.10" width="1.80" height="4.80" fill="#333"/>
<rect x="344.25" y="1250.10" width="1.80" height="4.80" fill="#333"/>
<rect x="363.27" y="1250.10" width="1.80" height="4.80" fill="#333"/>
<rect x="382.30" y="1250.10" width="1.80" height="4.80" fill="#333"/>
<rect x="401.33" y="1250.10" width="1.80" height="4.80" fill="#333"/>
<rect x="420.35" y="1250.10" width="1.80" height="4.80" fill="#333"/>
<rect x="439.38" y="1250.10" width="1.80" height="4.80" fill="#333"/>
<rect x="458.40" y="1250.10" width="1.80" height="4.80" fill="#333"/>
<rect x="477.43" y="1250.10" width="1.80" height="4.80" fill="#333"/>
<rect x="496.45" y="1250.10" width="1.80" height="4.80" fill="#333"/>
<rect x="515.48" y="1250.10" width="1.80" height="4.80" fill="#333"/>
<rect x="534.50" y="1250.10" width="1.80" height="4.80" fill="#333"/>
<rect x="553.52" y="1250.10" width="1.80" height="4.80" fill="#333"/>
<rect x="572.55" y="1250.10" width="1.80" height="4.80" fill="#333"/>
<rect x="591.57" y="1250.10" width="1.80" height="4.80" fill="#333"/>
<rect x="610.60" y="1250.10" width="1.80" height="4.80" fill="#333"/>
<rect x="629.62" y="1250.10" width="1.80" height="4.80" fill="#333"/>
<rect x="648.65" y="1250.10" width="1.80" height="4.80" fill="#333"/>
<rect x="667.68" y="1250.10" width="1.80" height="4.80" fill="#333"/>
<rect x="686.70" y="1250.10" width="1.80" height="4.80" fill="#333"/>
<rect x="705.73" y="1250.10" width="1.80" height="4.80" fill="#333"/>
<rect x="724.75" y="1250.10" width="1.80" height="4.80" fill="#333"/>
<rect x="743.77" y="1250.10" width="1.80" height="4.80" fill="#333"/>
<rect x="762.80" y="1250.10" width="1.80" height="4.80" fill="#333"/>
<rect x="781.82" y="1250.10" width="1.80" height="4.80" fill="#333"/>
<rect x="800.85" y="1250.10" width="1.80" height="4.80" fill="#333"/>
<rect x="819.88" y="1250.10" width="1.80" height="4.80" fill="#333"/>
<rect x="838.90" y="1250.10" width="1.80" height="4.80" fill="#333"/>
<rect x="857.92" y="1250.10" width="1.80" height="4.80" fill="#333"/>
<rect x="876.95" y="1250.10" width="1.80" height="4.80" fill="#333"/>
<rect x="895.98" y="1250.10" width="1.80" height="4.80" fill="#333"/>
<rect x="915.00" y="1250.10" width="1.80" height="4.80" fill="#333"/>
<rect x="934.02" y="1250.10" width="1.80" height="4.80" fill="#333"/>
<rect x="953.05" y="1250.10" width="1.80" height="4.80" fill="#333"/>
<rect x="972.07" y="1250.10" width="1.80" height="4.80" fill="#333"/>
<rect x="991.10" y="1250.10" width="1.80" height="4.80" fill="#333"/>
<rect x="1010.12" y="1250.10" width="1.80" height="4.80" fill="#333"/>
<rect x="1029.15" y="1250.10" width="1.80" height="4.80" fill="#333"/>
<rect x="1048.17" y="1250.10" width="1.80" height="4.80" fill="#333"/>
<rect x="1067.20" y="1250.10" width="1.80" height="4.80" fill="#333"/>
<rect x="1086.22" y="1250.10" width="1.80" height="4.80" fill="#333"/>
<rect x="1105.25" y="1250.10" width="1.80" height="4.80" fill="#333"/>
<rect x="1124.27" y="1250.10" width="1.80" height="4.80" fill="#333"/>
<rect x="1143.30" y="1250.10" width="1.80" height="4.80" fill="#333"/>
<rect x="1162.32" y="1250.10" width="1.80" height="4.80" fill="#333"/>
<rect x="1181.35" y="1250.10" width="1.80" height="4.80" fill="#333"/>
<rect x="1200.38" y="1250.10" width="1.80" height="4.80" fill="#333"/>
<rect x="1219.40" y="1250.10" width="1.80" height="4.80" fill="#333"/>
<rect x="1238.42" y="1250.10" width="1.80" height="4.80" fill="#333"/>
<rect x="1257.45" y="1250.10" width="1.80" height="4.80" fill="#333"/>
<rect x="1276.47" y="1250.10" width="1.80" height="4.80" fill="#333"/>
<rect x="1295.50" y="1250.10" width="1.80" height="4.80" fill="#333"/>
<rect x="1314.52" y="1250.10" width="1.80" height="4.80" fill="#333"/>
<rect x="1333.55" y="1250.10" width="1.80" height="4.80" fill="#333"/>
<rect x="1352.57" y="1250.10" width="1.80" height="4.80" fill="#333"/>
<rect x="1371.60" y="1250.10" width="1.80" height="4.80" fill="#333"/>
<rect x="1390.62" y="1250.10" width="1.80" height="4.80" fill="#333"/>
<rect x="1409.65" y="1250.10" width="1.80" height="4.80" fill="#333"/>
<rect x="1428.67" y="1250.10" width="1.80" height="4.80" fill="#333"/>
<rect x="1447.70" y="1250.10" width="1.80" height="4.80" fill="#333"/>
<rect x="1466.72" y="1250.10" width="1.80" height="4.80" fill="#333"/>
<rect x="1485.75" y="1250.10" width="1.80" height="4.80" fill="#333"/>
<rect x="1504.77" y="1250.10" width="1.80" height="4.80" fill="#333"/>
<rect x="1523.80" y="1250.10" width="1.80" height="4.80" fill="#333"/>
<rect x="1542.82" y="1250.10" width="1.80" height="4.80" fill="#333"/>
<rect x="1561.85" y="1250.10" width="1.80" height="4.80" fill="#333"/>
<rect x="1580.87" y="1250.10" width="1.80" height="4.80" fill="#333"/>
<rect x="1599.90" y="1250.10" width="1.80" height="4.80" fill="#333"/>
<rect x="1618.92" y="1250.10" width="1.80" height="4.80" fill="#333"/>
<rect x="1637.95" y="1250.10" width="1.80" height="4.80" fill="#333"/>
<rect x="1656.97" y="1250.10" width="1.80" height="4.80" fill="#333"/>
<rect x="1676.00" y="1250.10" width="1.80" height="4.80" fill="#333"/>
<rect x="1695.02" y="1250.10" width="1.80" height="4.80" fill="#333"/>
<rect x="1714.05" y="1250.10" width="1.80" height="4.80" fill="#333"/>
<rect x="1733.07" y="1250.10" width="1.80" height="4.80" fill="#333"/>
<rect x="1752.10" y="1250.10" width="1.80" height="4.80" fill="#333"/>
<rect x="1771.12" y="1250.10" width="1.80" height="4.80" fill="#333"/>
<rect x="1790.15" y="1250.10" width="1.80" height="4.80" fill="#333"/>
<rect x="1809.17" y="1250.10" width="1.80" height="4.80" fill="#333"/>
<rect x="1828.20" y="1250.10" width="1.80" height="4.80" fill="#333"/>
<rect x="1847.22" y="1250.10" width="1.80" height="4.80" fill="#333"/>
<rect x="1866.25" y="1250.10" width="1.80" height="4.80" fill="#333"/>
<rect x="1885.27" y="1250.10" width="1.80" height="4.80" fill="#333"/>
<rect x="1904.30" y="1250.10" width="1.80" height="4.80" fill="#333"/>
<rect x="1923.32" y="1250.10" width="1.80" height="4.80" fill="#333"/>
<rect x="1942.35" y="1250.10" width="1.80" height="4.80" fill="#333"/>
<rect x="1961.37" y="1250.10" width="1.80" height="4.80" fill="#333"/>
<rect x="1980.40" y="1250.10" width="1.80" height="4.80" fill="#333"/>
<rect x="1999.42" y="1250.10" width="1.80" height="4.80" fill="#333"/>
<rect x="2018.45" y="1250.10" width="1.80" height="4.80" fill="#333"/>
<rect x="2037.47" y="1250.10" width="1.80" height="4.80" fill="#333"/>
<rect x="2056.50" y="1250.10" width="1.80" height="4.80" fill="#333"/>
<rect x="2075.53" y="1250.10" width="1.80" height="4.80" fill="#333"/>
<rect x="2094.55" y="1250.10" width="1.80" height="4.80" fill="#333"/>
<rect x="2113.57" y="1250.10" width="1.80" height="4.80" fill="#333"/>
<rect x="2132.60" y="1250.10" width="1.80" height="4.80" fill="#333"/>
<rect x="2151.62" y="1250.10" width="1.80" height="4.80" fill="#333"/>
<rect x="2170.65" y="1250.10" width="1.80" height="4.80" fill="#333"/>
<rect x="2189.67" y="1250.10" width="1.80" height="4.80" fill="#333"/>
<rect x="2208.70" y="1250.10" width="1.80" height="4.80" fill="#333"/>
<rect x="2227.72" y="1250.10" width="1.80" height="4.80" fill="#333"/>
<rect x="2246.75" y="1250.10" width="1.80" height="4.80" fill="#333"/>
<rect x="2265.78" y="1250.10" width="1.80" height="4.80" fill="#333"/>
<rect x="2284.80" y="1250.10" width="1.80" height="4.80" fill="#333"/>
<rect x="225.40" y="1249.20" width="5.00" height="1.80" fill="#333"/>
<text x="208.21" y="1259.80" font-family='"Liberation Sans",sans-serif' font-size="23.00" fill="#4d4d4d" textLength="13.75" lengthAdjust="spacingAndGlyphs">0</text>
<rect x="225.40" y="1067.60" width="5.00" height="1.80" fill="#333"/>
<text x="180.71" y="1078.20" font-family='"Liberation Sans",sans-serif' font-size="23.00" fill="#4d4d4d" textLength="41.25" lengthAdjust="spacingAndGlyphs">200</text>
<rect x="225.40" y="886.00" width="5.00" height="1.80" fill="#333"/>
<text x="180.71" y="896.60" font-family='"Liberation Sans",sans-serif' font-size="23.00" fill="#4d4d4d" textLength="41.25" lengthAdjust="spacingAndGlyphs">400</text>
<rect x="225.40" y="704.40" width="5.00" height="1.80" fill="#333"/>
<text x="180.71" y="715.00" font-family='"Liberation Sans",sans-serif' font-size="23.00" fill="#4d4d4d" textLength="41.25" lengthAdjust="spacingAndGlyphs">600</text>
<g font-family='"Liberation Sans",sans-serif' font-size="17" fill="#4d4d4d">
<text x="245.60" y="1259.30" text-anchor="end" textLength="41" lengthAdjust="spacingAndGlyphs" transform="rotate(-90 245.60 1259.30)">16/02</text>
<text x="264.62" y="1259.30" text-anchor="end" textLength="41" lengthAdjust="spacingAndGlyphs" transform="rotate(-90 264.62 1259.30)">18/02</text>
<text x="283.65" y="1259.30" text-anchor="end" textLength="41" lengthAdjust="spacingAndGlyphs" transform="rotate(-90 283.65 1259.30)">20/02</text>
<text x="302.68" y="1259.30" text-anchor="end" textLength="41" lengthAdjust="spacingAndGlyphs" transform="rotate(-90 302.68 1259.30)">22/02</text>
<text x="321.70" y="1259.30" text-anchor="end" textLength="41" lengthAdjust="spacingAndGlyphs" transform="rotate(-90 321.70 1259.30)">24/02</text>
<text x="340.73" y="1259.30" text-anchor="end" textLength="41" lengthAdjust="spacingAndGlyphs" transform="rotate(-90 340.73 1259.30)">26/02</text>
<text x="359.75" y="1259.30" text-anchor="end" textLength="41" lengthAdjust="spacingAndGlyphs" transform="rotate(-90 359.75 1259.30)">28/02</text>
<text x="378.77" y="1259.30" text-anchor="end" textLength="41" lengthAdjust="spacingAndGlyphs" transform="rotate(-90 378.77 1259.30)">01/03</text>
<text x="397.80" y="1259.30" text-anchor="end" textLength="41" lengthAdjust="spacingAndGlyphs" transform="rotate(-90 397.80 1259.30)">03/03</text>
<text x="416.83" y="1259.30" text-anchor="end" textLength="41" lengthAdjust="spacingAndGlyphs" transform="rotate(-90 416.83 1259.30)">05/03</text>
<text x="435.85" y="1259.30" text-anchor="end" textLength="41" lengthAdjust="spacingAndGlyphs" transform="rotate(-90 435.85 1259.30)">07/03</text>
<text x="454.88" y="1259.30" text-anchor="end" textLength="41" lengthAdjust="spacingAndGlyphs" transform="rotate(-90 454.88 1259.30)">09/03</text>
<text x="473.90" y="1259.30" text-anchor="end" textLength="41" lengthAdjust="spacingAndGlyphs" transform="rotate(-90 473.90 1259.30)">11/03</text>
<text x="492.93" y="1259.30" text-anchor="end" textLength="41" lengthAdjust="spacingAndGlyphs" transform="rotate(-90 492.93 1259.30)">13/03</text>
<text x="511.95" y="1259.30" text-anchor="end" textLength="41" lengthAdjust="spacingAndGlyphs" transform="rotate(-90 511.95 1259.30)">15/03</text>
<text x="530.98" y="1259.30" text-anchor="end" textLength="41" lengthAdjust="spacingAndGlyphs" transform="rotate(-90 530.98 1259.30)">17/03</text>
<text x="550.00" y="1259.30" text-anchor="end" textLength="41" lengthAdjust="spacingAndGlyphs" transform="rotate(-90 550.00 1259.30)">19/03</text>
<text x="569.02" y="1259.30" text-anchor="end" textLength="41" lengthAdjust="spacingAndGlyphs" transform="rotate(-90 569.02 1259.30)">21/03</text>
<text x="588.05" y="1259.30" text-anchor="end" textLength="41" lengthAdjust="spacingAndGlyphs" transform="rotate(-90 588.05 1259.30)">23/03</text>
<text x="607.07" y="1259.30" text-anchor="end" textLength="41" lengthAdjust="spacingAndGlyphs" transform="rotate(-90 607.07 1259.30)">25/03</text>
<text x="626.10" y="1259.30" text-anchor="end" textLength="41" lengthAdjust="spacingAndGlyphs" transform="rotate(-90 626.10 1259.30)">27/03</text>
<text x="645.12" y="1259.30" text-anchor="end" textLength="41" lengthAdjust="spacingAndGlyphs" transform="rotate(-90 645.12 1259.30)">29/03</text>
<text x="664.15" y="1259.30" text-anchor="end" textLength="41" lengthAdjust="spacingAndGlyphs" transform="rotate(-90 664.15 1259.30)">31/03</text>
<text x="683.18" y="1259.30" text-anchor="end" textLength="41" lengthAdjust="spacingAndGlyphs" transform="rotate(-90 683.18 1259.30)">02/04</text>
<text x="702.20" y="1259.30" text-anchor="end" textLength="41" lengthAdjust="spacingAndGlyphs" transform="rotate(-90 702.20 1259.30)">04/04</text>
<text x="721.23" y="1259.30" text-anchor="end" textLength="41" lengthAdjust="spacingAndGlyphs" transform="rotate(-90 721.23 1259.30)">06/04</text>
<text x="740.25" y="1259.30" text-anchor="end" textLength="41" lengthAdjust="spacingAndGlyphs" transform="rotate(-90 740.25 1259.30)">08/04</text>
<text x="759.27" y="1259.30" text-anchor="end" textLength="41" lengthAdjust="spacingAndGlyphs" transform="rotate(-90 759.27 1259.30)">10/04</text>
<text x="778.30" y="1259.30" text-anchor="end" textLength="41" lengthAdjust="spacingAndGlyphs" transform="rotate(-90 778.30 1259.30)">12/04</text>
<text x="797.32" y="1259.30" text-anchor="end" textLength="41" lengthAdjust="spacingAndGlyphs" transform="rotate(-90 797.32 1259.30)">14/04</text>
<text x="816.35" y="1259.30" text-anchor="end" textLength="41" lengthAdjust="spacingAndGlyphs" transform="rotate(-90 816.35 1259.30)">16/04</text>
<text x="835.38" y="1259.30" text-anchor="end" textLength="41" lengthAdjust="spacingAndGlyphs" transform="rotate(-90 835.38 1259.30)">18/04</text>
<text x="854.40" y="1259.30" text-anchor="end" textLength="41" lengthAdjust="spacingAndGlyphs" transform="rotate(-90 854.40 1259.30)">20/04</text>
<text x="873.42" y="1259.30" text-anchor="end" textLength="41" lengthAdjust="spacingAndGlyphs" transform="rotate(-90 873.42 1259.30)">22/04</text>
<text x="892.45" y="1259.30" text-anchor="end" textLength="41" lengthAdjust="spacingAndGlyphs" transform="rotate(-90 892.45 1259.30)">24/04</text>
<text x="911.48" y="1259.30" text-anchor="end" textLength="41" lengthAdjust="spacingAndGlyphs" transform="rotate(-90 911.48 1259.30)">26/04</text>
<text x="930.50" y="1259.30" text-anchor="end" textLength="41" lengthAdjust="spacingAndGlyphs" transform="rotate(-90 930.50 1259.30)">28/04</text>
<text x="949.52" y="1259.30" text-anchor="end" textLength="41" lengthAdjust="spacingAndGlyphs" transform="rotate(-90 949.52 1259.30)">30/04</text>
<text x="968.55" y="1259.30" text-anchor="end" textLength="41" lengthAdjust="spacingAndGlyphs" transform="rotate(-90 968.55 1259.30)">02/05</text>
<text x="987.57" y="1259.30" text-anchor="end" textLength="41" lengthAdjust="spacingAndGlyphs" transform="rotate(-90 987.57 1259.30)">04/05</text>
<text x="1006.60" y="1259.30" text-anchor="end" textLength="41" lengthAdjust="spacingAndGlyphs" transform="rotate(-90 1006.60 1259.30)">06/05</text>
<text x="1025.62" y="1259.30" text-anchor="end" textLength="41" lengthAdjust="spacingAndGlyphs" transform="rotate(-90 1025.62 1259.30)">08/05</text>
<text x="1044.65" y="1259.30" text-anchor="end" textLength="41" lengthAdjust="spacingAndGlyphs" transform="rotate(-90 1044.65 1259.30)">10/05</text>
<text x="1063.67" y="1259.30" text-anchor="end" textLength="41" lengthAdjust="spacingAndGlyphs" transform="rotate(-90 1063.67 1259.30)">12/05</text>
<text x="1082.70" y="1259.30" text-anchor="end" textLength="41" lengthAdjust="spacingAndGlyphs" transform="rotate(-90 1082.70 1259.30)">14/05</text>
<text x="1101.72" y="1259.30" text-anchor="end" textLength="41" lengthAdjust="spacingAndGlyphs" transform="rotate(-90 1101.72 1259.30)">16/05</text>
<text x="1120.75" y="1259.30" text-anchor="end" textLength="41" lengthAdjust="spacingAndGlyphs" transform="rotate(-90 1120.75 1259.30)">18/05</text>
<text x="1139.77" y="1259.30" text-anchor="end" textLength="41" lengthAdjust="spacingAndGlyphs" transform="rotate(-90 1139.77 1259.30)">20/05</text>
<text x="1158.80" y="1259.30" text-anchor="end" textLength="41" lengthAdjust="spacingAndGlyphs" transform="rotate(-90 1158.80 1259.30)">22/05</text>
<text x="1177.82" y="1259.30" text-anchor="end" textLength="41" lengthAdjust="spacingAndGlyphs" transform="rotate(-90 1177.82 1259.30)">24/05</text>
<text x="1196.85" y="1259.30" text-anchor="end" textLength="41" lengthAdjust="spacingAndGlyphs" transform="rotate(-90 1196.85 1259.30)">26/05</text>
<text x="1215.88" y="1259.30" text-anchor="end" textLength="41" lengthAdjust="spacingAndGlyphs" transform="rotate(-90 1215.88 1259.30)">28/05</text>
<text x="1234.90" y="1259.30" text-anchor="end" textLength="41" lengthAdjust="spacingAndGlyphs" transform="rotate(-90 1234.90 1259.30)">30/05</text>
<text x="1253.92" y="1259.30" text-anchor="end" textLength="41" lengthAdjust="spacingAndGlyphs" transform="rotate(-90 1253.92 1259.30)">01/06</text>
<text x="1272.95" y="1259.30" text-anchor="end" textLength="41" lengthAdjust="spacingAndGlyphs" transform="rotate(-90 1272.95 1259.30)">03/06</text>
<text x="1291.97" y="1259.30" text-anchor="end" textLength="41" lengthAdjust="spacingAndGlyphs" transform="rotate(-90 1291.97 1259.30)">05/06</text>
<text x="1311.00" y="1259.30" text-anchor="end" textLength="41" lengthAdjust="spacingAndGlyphs" transform="rotate(-90 1311.00 1259.30)">07/06</text>
<text x="1330.02" y="1259.30" text-anchor="end" textLength="41" lengthAdjust="spacingAndGlyphs" transform="rotate(-90 1330.02 1259.30)">09/06</text>
<text x="1349.05" y="1259.30" text-anchor="end" textLength="41" lengthAdjust="spacingAndGlyphs" transform="rotate(-90 1349.05 1259.30)">11/06</text>
<text x="1368.07" y="1259.30" text-anchor="end" textLength="41" lengthAdjust="spacingAndGlyphs" transform="rotate(-90 1368.07 1259.30)">13/06</text>
<text x="1387.10" y="1259.30" text-anchor="end" textLength="41" lengthAdjust="spacingAndGlyphs" transform="rotate(-90 1387.10 1259.30)">15/06</text>
<text x="1406.12" y="1259.30" text-anchor="end" textLength="41" lengthAdjust="spacingAndGlyphs" transform="rotate(-90 1406.12 1259.30)">17/06</text>
<text x="1425.15" y="1259.30" text-anchor="end" textLength="41" lengthAdjust="spacingAndGlyphs" transform="rotate(-90 1425.15 1259.30)">19/06</text>
<text x="1444.17" y="1259.30" text-anchor="end" textLength="41" lengthAdjust="spacingAndGlyphs" transform="rotate(-90 1444.17 1259.30)">21/06</text>
<text x="1463.20" y="1259.30" text-anchor="end" textLength="41" lengthAdjust="spacingAndGlyphs" transform="rotate(-90 1463.20 1259.30)">23/06</text>
<text x="1482.22" y="1259.30" text-anchor="end" textLength="41" lengthAdjust="spacingAndGlyphs" transform="rotate(-90 1482.22 1259.30)">25/06</text>
<text x="1501.25" y="1259.30" text-anchor="end" textLength="41" lengthAdjust="spacingAndGlyphs" transform="rotate(-90 1501.25 1259.30)">27/06</text>
<text x="1520.27" y="1259.30" text-anchor="end" textLength="41" lengthAdjust="spacingAndGlyphs" transform="rotate(-90 1520.27 1259.30)">29/06</text>
<text x="1539.30" y="1259.30" text-anchor="end" textLength="41" lengthAdjust="spacingAndGlyphs" transform="rotate(-90 1539.30 1259.30)">01/07</text>
<text x="1558.32" y="1259.30" text-anchor="end" textLength="41" lengthAdjust="spacingAndGlyphs" transform="rotate(-90 1558.32 1259.30)">03/07</text>
<text x="1577.35" y="1259.30" text-anchor="end" textLength="41" lengthAdjust="spacingAndGlyphs" transform="rotate(-90 1577.35 1259.30)">05/07</text>
<text x="1596.37" y="1259.30" text-anchor="end" textLength="41" lengthAdjust="spacingAndGlyphs" transform="rotate(-90 1596.37 1259.30)">07/07</text>
<text x="1615.40" y="1259.30" text-anchor="end" textLength="41" lengthAdjust="spacingAndGlyphs" transform="rotate(-90 1615.40 1259.30)">09/07</text>
<text x="1634.42" y="1259.30" text-anchor="end" textLength="41" lengthAdjust="spacingAndGlyphs" transform="rotate(-90 1634.42 1259.30)">11/07</text>
<text x="1653.45" y="1259.30" text-anchor="end" textLength="41" lengthAdjust="spacingAndGlyphs" transform="rotate(-90 1653.45 1259.30)">13/07</text>
<text x="1672.47" y="1259.30" text-anchor="end" textLength="41" lengthAdjust="spacingAndGlyphs" transform="rotate(-90 1672.47 1259.30)">15/07</text>
<text x="1691.50" y="1259.30" text-anchor="end" textLength="41" lengthAdjust="spacingAndGlyphs" transform="rotate(-90 1691.50 1259.30)">17/07</text>
<text x="1710.52" y="1259.30" text-anchor="end" textLength="41" lengthAdjust="spacingAndGlyphs" transform="rotate(-90 1710.52 1259.30)">19/07</text>
<text x="1729.55" y="1259.30" text-anchor="end" textLength="41" lengthAdjust="spacingAndGlyphs" transform="rotate(-90 1729.55 1259.30)">21/07</text>
<text x="1748.57" y="1259.30" text-anchor="end" textLength="41" lengthAdjust="spacingAndGlyphs" transform="rotate(-90 1748.57 1259.30)">23/07</text>
<text x="1767.60" y="1259.30" text-anchor="end" textLength="41" lengthAdjust="spacingAndGlyphs" transform="rotate(-90 1767.60 1259.30)">25/07</text>
<text x="1786.62" y="1259.30" text-anchor="end" textLength="41" lengthAdjust="spacingAndGlyphs" transform="rotate(-90 1786.62 1259.30)">27/07</text>
<text x="1805.65" y="1259.30" text-anchor="end" textLength="41" lengthAdjust="spacingAndGlyphs" transform="rotate(-90 1805.65 1259.30)">29/07</text>
<text x="1824.67" y="1259.30" text-anchor="end" textLength="41" lengthAdjust="spacingAndGlyphs" transform="rotate(-90 1824.67 1259.30)">31/07</text>
<text x="1843.70" y="1259.30" text-anchor="end" textLength="41" lengthAdjust="spacingAndGlyphs" transform="rotate(-90 1843.70 1259.30)">02/08</text>
<text x="1862.72" y="1259.30" text-anchor="end" textLength="41" lengthAdjust="spacingAndGlyphs" transform="rotate(-90 1862.72 1259.30)">04/08</text>
<text x="1881.75" y="1259.30" text-anchor="end" textLength="41" lengthAdjust="spacingAndGlyphs" transform="rotate(-90 1881.75 1259.30)">06/08</text>
<text x="1900.77" y="1259.30" text-anchor="end" textLength="41" lengthAdjust="spacingAndGlyphs" transform="rotate(-90 1900.77 1259.30)">08/08</text>
<text x="1919.80" y="1259.30" text-anchor="end" textLength="41" lengthAdjust="spacingAndGlyphs" transform="rotate(-90 1919.80 1259.30)">10/08</text>
<text x="1938.82" y="1259.30" text-anchor="end" textLength="41" lengthAdjust="spacingAndGlyphs" transform="rotate(-90 1938.82 1259.30)">12/08</text>
<text x="1957.85" y="1259.30" text-anchor="end" textLength="41" lengthAdjust="spacingAndGlyphs" transform="rotate(-90 1957.85 1259.30)">14/08</text>
<text x="1976.87" y="1259.30" text-anchor="end" textLength="41" lengthAdjust="spacingAndGlyphs" transform="rotate(-90 1976.87 1259.30)">16/08</text>
<text x="1995.90" y="1259.30" text-anchor="end" textLength="41" lengthAdjust="spacingAndGlyphs" transform="rotate(-90 1995.90 1259.30)">18/08</text>
<text x="2014.92" y="1259.30" text-anchor="end" textLength="41" lengthAdjust="spacingAndGlyphs" transform="rotate(-90 2014.92 1259.30)">20/08</text>
<text x="2033.95" y="1259.30" text-anchor="end" textLength="41" lengthAdjust="spacingAndGlyphs" transform="rotate(-90 2033.95 1259.30)">22/08</text>
<text x="2052.97" y="1259.30" text-anchor="end" textLength="41" lengthAdjust="spacingAndGlyphs" transform="rotate(-90 2052.97 1259.30)">24/08</text>
<text x="2072.00" y="1259.30" text-anchor="end" textLength="41" lengthAdjust="spacingAndGlyphs" transform="rotate(-90 2072.00 1259.30)">26/08</text>
<text x="2091.03" y="1259.30" text-anchor="end" textLength="41" lengthAdjust="spacingAndGlyphs" transform="rotate(-90 2091.03 1259.30)">28/08</text>
<text x="2110.05" y="1259.30" text-anchor="end" textLength="41" lengthAdjust="spacingAndGlyphs" transform="rotate(-90 2110.05 1259.30)">30/08</text>
<text x="2129.07" y="1259.30" text-anchor="end" textLength="41" lengthAdjust="spacingAndGlyphs" transform="rotate(-90 2129.07 1259.30)">01/09</text>
<text x="2148.10" y="1259.30" text-anchor="end" textLength="41" lengthAdjust="spacingAndGlyphs" transform="rotate(-90 2148.10 1259.30)">03/09</text>
<text x="2167.12" y="1259.30" text-anchor="end" textLength="41" lengthAdjust="spacingAndGlyphs" transform="rotate(-90 2167.12 1259.30)">05/09</text>
<text x="2186.15" y="1259.30" text-anchor="end" textLength="41" lengthAdjust="spacingAndGlyphs" transform="rotate(-90 2186.15 1259.30)">07/09</text>
<text x="2205.17" y="1259.30" text-anchor="end" textLength="41" lengthAdjust="spacingAndGlyphs" transform="rotate(-90 2205.17 1259.30)">09/09</text>
<text x="2224.20" y="1259.30" text-anchor="end" textLength="41" lengthAdjust="spacingAndGlyphs" transform="rotate(-90 2224.20 1259.30)">11/09</text>
<text x="2243.22" y="1259.30" text-anchor="end" textLength="41" lengthAdjust="spacingAndGlyphs" transform="rotate(-90 2243.22 1259.30)">13/09</text>
<text x="2262.25" y="1259.30" text-anchor="end" textLength="41" lengthAdjust="spacingAndGlyphs" transform="rotate(-90 2262.25 1259.30)">15/09</text>
<text x="2281.28" y="1259.30" text-anchor="end" textLength="41" lengthAdjust="spacingAndGlyphs" transform="rotate(-90 2281.28 1259.30)">17/09</text>
<text x="2300.30" y="1259.30" text-anchor="end" textLength="41" lengthAdjust="spacingAndGlyphs" transform="rotate(-90 2300.30 1259.30)">19/09</text>
</g>
<rect x="2297.00" y="1255.00" width="30.00" height="50.00" fill="#fefefe"/>
<text x="1234.44" y="1322.30" font-family='"Liberation Sans",sans-serif' font-size="19.50" fill="#000" textLength="45.36" lengthAdjust="spacingAndGlyphs">Data</text>
<text x="0" y="0" font-family='"Liberation Sans",sans-serif' font-size="21" fill="#000" textLength="109.41" lengthAdjust="spacingAndGlyphs" transform="translate(172.3 961.42) rotate(-90)">Nº de casos</text>
<rect x="2035.00" y="561.00" width="40.00" height="39.60" fill="#a2dbd2"/>
<rect x="2035.00" y="612.00" width="40.00" height="39.00" fill="#72b8b2"/>
<text x="2089.22" y="581.90" font-family='"Liberation Sans",sans-serif' font-size="16.70" fill="#666" textLength="198.39" lengthAdjust="spacingAndGlyphs">Data de início de sintomas</text>
<text x="2089.22" y="637.90" font-family='"Liberation Sans",sans-serif' font-size="16.70" fill="#666" textLength="233.08" lengthAdjust="spacingAndGlyphs">Data de diagnóstico/notificação</text>
<rect x="115.10" y="1619.80" width="290.90" height="142.20" fill="#5a9fac"/>
<rect x="472.80" y="1619.80" width="291.00" height="142.20" fill="#ff8a7a"/>
<text x="155.90" y="1714.30" font-family='"Liberation Sans",sans-serif' font-size="67.94" fill="#fff" textLength="208.77" lengthAdjust="spacingAndGlyphs" stroke="#fff" stroke-width="2.40" stroke-linejoin="miter" stroke-miterlimit="3">30 735</text>
<text x="513.30" y="1714.30" font-family='"Liberation Sans",sans-serif' font-size="67.94" fill="#fff" textLength="208.87" lengthAdjust="spacingAndGlyphs" stroke="#fff" stroke-width="2.40" stroke-linejoin="miter" stroke-miterlimit="3">37 290</text>
<text aria-label="HOMENS" y="1817.20" font-family='"Liberation Sans",sans-serif' font-size="36.92" fill="#5a9fac" stroke-linejoin="miter" stroke-miterlimit="3"><tspan x="183.21" textLength="26.29" lengthAdjust="spacingAndGlyphs" stroke="#5a9fac" stroke-width="1.80">H</tspan><tspan x="211.23" textLength="27.75" lengthAdjust="spacingAndGlyphs" stroke="#5a9fac" stroke-width="1.80">O</tspan><tspan x="240.90" textLength="32.17" lengthAdjust="spacingAndGlyphs" stroke="#5a9fac" stroke-width="1.80">M</tspan><tspan x="274.73" textLength="19.82" lengthAdjust="spacingAndGlyphs" stroke="#5a9fac" stroke-width="1.80">E</tspan><tspan x="296.04" textLength="26.87" lengthAdjust="spacingAndGlyphs" stroke="#5a9fac" stroke-width="1.80">N</tspan><tspan x="324.39" textLength="19.56" lengthAdjust="spacingAndGlyphs" stroke="#5a9fac" stroke-width="1.80">S</tspan></text>
<text aria-label="MULHERES" y="1817.20" font-family='"Liberation Sans",sans-serif' font-size="36.92" fill="#ff8a7a" stroke-linejoin="miter" stroke-miterlimit="3"><tspan x="525.33" textLength="32.15" lengthAdjust="spacingAndGlyphs" stroke="#ff8a7a" stroke-width="1.80">M</tspan><tspan x="559.34" textLength="25.93" lengthAdjust="spacingAndGlyphs" stroke="#ff8a7a" stroke-width="1.80">U</tspan><tspan x="586.69" textLength="18.49" lengthAdjust="spacingAndGlyphs" stroke="#ff8a7a" stroke-width="1.80">L</tspan><tspan x="606.60" textLength="26.28" lengthAdjust="spacingAndGlyphs" stroke="#ff8a7a" stroke-width="1.80">H</tspan><tspan x="634.35" textLength="19.81" lengthAdjust="spacingAndGlyphs" stroke="#ff8a7a" stroke-width="1.80">E</tspan><tspan x="655.49" textLength="22.02" lengthAdjust="spacingAndGlyphs" stroke="#ff8a7a" stroke-width="1.80">R</tspan><tspan x="678.84" textLength="19.81" lengthAdjust="spacingAndGlyphs" stroke="#ff8a7a" stroke-width="1.80">E</tspan><tspan x="699.90" textLength="19.55" lengthAdjust="spacingAndGlyphs" stroke="#ff8a7a" stroke-width="1.80">S</tspan></text>
<rect x="115.10" y="2550.70" width="290.90" height="143.10" fill="#5a9fac"/>
<rect x="472.80" y="2550.70" width="291.00" height="143.10" fill="#ff8a7a"/>
<text x="202.27" y="2646.00" font-family='"Liberation Sans",sans-serif' font-size="67.94" fill="#fff" textLength="115.03" lengthAdjust="spacingAndGlyphs" stroke="#fff" stroke-width="2.40" stroke-linejoin="miter" stroke-miterlimit="3">958</text>
<text x="560.19" y="2646.00" font-family='"Liberation Sans",sans-serif' font-size="67.94" fill="#fff" textLength="107.25" lengthAdjust="spacingAndGlyphs" stroke="#fff" stroke-width="2.40" stroke-linejoin="miter" stroke-miterlimit="3">941</text>
<text aria-label="HOMENS" y="2748.50" font-family='"Liberation Sans",sans-serif' font-size="36.92" fill="#5a9fac" stroke-linejoin="miter" stroke-miterlimit="3"><tspan x="183.21" textLength="26.29" lengthAdjust="spacingAndGlyphs" stroke="#5a9fac" stroke-width="1.80">H</tspan><tspan x="211.23" textLength="27.75" lengthAdjust="spacingAndGlyphs" stroke="#5a9fac" stroke-width="1.80">O</tspan><tspan x="240.90" textLength="32.17" lengthAdjust="spacingAndGlyphs" stroke="#5a9fac" stroke-width="1.80">M</tspan><tspan x="274.73" textLength="19.82" lengthAdjust="spacingAndGlyphs" stroke="#5a9fac" stroke-width="1.80">E</tspan><tspan x="296.04" textLength="26.87" lengthAdjust="spacingAndGlyphs" stroke="#5a9fac" stroke-width="1.80">N</tspan><tspan x="324.39" textLength="19.56" lengthAdjust="spacingAndGlyphs" stroke="#5a9fac" stroke-width="1.80">S</tspan></text>
<text aria-label="MULHERES" y="2748.50" font-family='"Liberation Sans",sans-serif' font-size="36.92" fill="#ff8a7a" stroke-linejoin="miter" stroke-miterlimit="3"><tspan x="525.33" textLength="32.15" lengthAdjust="spacingAndGlyphs" stroke="#ff8a7a" stroke-width="1.80">M</tspan><tspan x="559.34" textLength="25.93" lengthAdjust="spacingAndGlyphs" stroke="#ff8a7a" stroke-width="1.80">U</tspan><tspan x="586.69" textLength="18.49" lengthAdjust="spacingAndGlyphs" stroke="#ff8a7a" stroke-width="1.80">L</tspan><tspan x="606.60" textLength="26.28" lengthAdjust="spacingAndGlyphs" stroke="#ff8a7a" stroke-width="1.80">H</tspan><tspan x="634.35" textLength="19.81" lengthAdjust="spacingAndGlyphs" stroke="#ff8a7a" stroke-width="1.80">E</tspan><tspan x="655.49" textLength="22.02" lengthAdjust="spacingAndGlyphs" stroke="#ff8a7a" stroke-width="1.80">R</tspan><tspan x="678.84" textLength="19.81" lengthAdjust="spacingAndGlyphs" stroke="#ff8a7a" stroke-width="1.80">E</tspan><tspan x="699.90" textLength="19.55" lengthAdjust="spacingAndGlyphs" stroke="#ff8a7a" stroke-width="1.80">S</tspan></text>
<line x1="1215.06" y1="1550.60" x2="2291" y2="1550.60" stroke="#9d9d9c" stroke-width="4.6" stroke-dasharray="5 7.74"/>
<line x1="1215.06" y1="1636.53" x2="2291" y2="1636.53" stroke="#9d9d9c" stroke-width="4.6" stroke-dasharray="5 7.74"/>
<line x1="1215.06" y1="1722.47" x2="2291" y2="1722.47" stroke="#9d9d9c" stroke-width="4.6" stroke-dasharray="5 7.74"/>
<line x1="1215.06" y1="1808.40" x2="2291" y2="1808.40" stroke="#9d9d9c" stroke-width="4.6" stroke-dasharray="5 7.74"/>
<line x1="1215.06" y1="1894.33" x2="2291" y2="1894.33" stroke="#9d9d9c" stroke-width="4.6" stroke-dasharray="5 7.74"/>
<line x1="1215.06" y1="1980.27" x2="2291" y2="1980.27" stroke="#9d9d9c" stroke-width="4.6" stroke-dasharray="5 7.74"/>
<rect x="1241.60" y="1967.80" width="34.00" height="98.40" fill="#fefefe"/>
<rect x="1275.40" y="1978.80" width="34.50" height="87.40" fill="#fefefe"/>
<rect x="1243.10" y="1969.00" width="30.80" height="97.20" fill="#5a9fac"/>
<rect x="1277.10" y="1980.00" width="30.80" height="86.20" fill="#ff8a7a"/>
<rect x="1360.95" y="1949.80" width="34.00" height="116.40" fill="#fefefe"/>
<rect x="1394.75" y="1936.70" width="34.50" height="129.50" fill="#fefefe"/>
<rect x="1362.45" y="1951.00" width="30.80" height="115.20" fill="#5a9fac"/>
<rect x="1396.45" y="1937.90" width="30.80" height="128.30" fill="#ff8a7a"/>
<rect x="1480.30" y="1715.00" width="34.00" height="351.20" fill="#fefefe"/>
<rect x="1514.10" y="1666.70" width="34.50" height="399.50" fill="#fefefe"/>
<rect x="1481.80" y="1716.20" width="30.80" height="350.00" fill="#5a9fac"/>
<rect x="1515.80" y="1667.90" width="30.80" height="398.30" fill="#ff8a7a"/>
<rect x="1599.65" y="1700.90" width="34.00" height="365.30" fill="#fefefe"/>
<rect x="1633.45" y="1661.90" width="34.50" height="404.30" fill="#fefefe"/>
<rect x="1601.15" y="1702.10" width="30.80" height="364.10" fill="#5a9fac"/>
<rect x="1635.15" y="1663.10" width="30.80" height="403.10" fill="#ff8a7a"/>
<rect x="1719.00" y="1721.90" width="34.00" height="344.30" fill="#fefefe"/>
<rect x="1752.80" y="1646.70" width="34.50" height="419.50" fill="#fefefe"/>
<rect x="1720.50" y="1723.10" width="30.80" height="343.10" fill="#5a9fac"/>
<rect x="1754.50" y="1647.90" width="30.80" height="418.30" fill="#ff8a7a"/>
<rect x="1838.35" y="1766.70" width="34.00" height="299.50" fill="#fefefe"/>
<rect x="1872.15" y="1678.80" width="34.50" height="387.40" fill="#fefefe"/>
<rect x="1839.85" y="1767.90" width="30.80" height="298.30" fill="#5a9fac"/>
<rect x="1873.85" y="1680.00" width="30.80" height="386.20" fill="#ff8a7a"/>
<rect x="1957.70" y="1842.90" width="34.00" height="223.30" fill="#fefefe"/>
<rect x="1991.50" y="1822.90" width="34.50" height="243.30" fill="#fefefe"/>
<rect x="1959.20" y="1844.10" width="30.80" height="222.10" fill="#5a9fac"/>
<rect x="1993.20" y="1824.10" width="30.80" height="242.10" fill="#ff8a7a"/>
<rect x="2077.05" y="1918.10" width="34.00" height="148.10" fill="#fefefe"/>
<rect x="2110.85" y="1901.90" width="34.50" height="164.30" fill="#fefefe"/>
<rect x="2078.55" y="1919.30" width="30.80" height="146.90" fill="#5a9fac"/>
<rect x="2112.55" y="1903.10" width="30.80" height="163.10" fill="#ff8a7a"/>
<rect x="2196.40" y="1906.00" width="34.00" height="160.20" fill="#fefefe"/>
<rect x="2230.20" y="1741.90" width="34.50" height="324.30" fill="#fefefe"/>
<rect x="2197.90" y="1907.20" width="30.80" height="159.00" fill="#5a9fac"/>
<rect x="2231.90" y="1743.10" width="30.80" height="323.10" fill="#ff8a7a"/>
<rect x="1213.20" y="1548.20" width="4.80" height="520.40" fill="#9d9d9c"/>
<rect x="1213.20" y="2063.80" width="1078.00" height="4.80" fill="#9d9d9c"/>
<text x="1104.15" y="1560.10" font-family='"Liberation Sans",sans-serif' font-size="32.29" fill="#676767" textLength="77.21" lengthAdjust="spacingAndGlyphs">7500</text>
<text x="1104.15" y="1646.03" font-family='"Liberation Sans",sans-serif' font-size="32.29" fill="#676767" textLength="77.21" lengthAdjust="spacingAndGlyphs">6250</text>
<text x="1104.15" y="1731.97" font-family='"Liberation Sans",sans-serif' font-size="32.29" fill="#676767" textLength="77.21" lengthAdjust="spacingAndGlyphs">5000</text>
<text x="1104.15" y="1817.90" font-family='"Liberation Sans",sans-serif' font-size="32.29" fill="#676767" textLength="77.21" lengthAdjust="spacingAndGlyphs">3750</text>
<text x="1104.15" y="1903.83" font-family='"Liberation Sans",sans-serif' font-size="32.29" fill="#676767" textLength="77.21" lengthAdjust="spacingAndGlyphs">2500</text>
<text x="1104.15" y="1989.77" font-family='"Liberation Sans",sans-serif' font-size="32.29" fill="#676767" textLength="77.21" lengthAdjust="spacingAndGlyphs">1250</text>
<text x="1162.05" y="2075.70" font-family='"Liberation Sans",sans-serif' font-size="32.29" fill="#676767" textLength="19.30" lengthAdjust="spacingAndGlyphs">0</text>
<text x="1226.70" y="2133.20" font-family='"Liberation Sans",sans-serif' font-size="37.71" fill="#676767" textLength="97.91" lengthAdjust="spacingAndGlyphs">00-09</text>
<text x="1344.59" y="2133.20" font-family='"Liberation Sans",sans-serif' font-size="37.71" fill="#676767" textLength="99.40" lengthAdjust="spacingAndGlyphs">10-19</text>
<text x="1464.97" y="2133.20" font-family='"Liberation Sans",sans-serif' font-size="37.71" fill="#676767" textLength="98.36" lengthAdjust="spacingAndGlyphs">20-29</text>
<text x="1584.79" y="2133.20" font-family='"Liberation Sans",sans-serif' font-size="37.71" fill="#676767" textLength="97.87" lengthAdjust="spacingAndGlyphs">30-39</text>
<text x="1704.73" y="2133.20" font-family='"Liberation Sans",sans-serif' font-size="37.71" fill="#676767" textLength="97.27" lengthAdjust="spacingAndGlyphs">40-49</text>
<text x="1823.42" y="2133.20" font-family='"Liberation Sans",sans-serif' font-size="37.71" fill="#676767" textLength="97.95" lengthAdjust="spacingAndGlyphs">50-59</text>
<text x="1942.35" y="2133.20" font-family='"Liberation Sans",sans-serif' font-size="37.71" fill="#676767" textLength="98.37" lengthAdjust="spacingAndGlyphs">60-69</text>
<text x="2061.68" y="2133.20" font-family='"Liberation Sans",sans-serif' font-size="37.71" fill="#676767" textLength="98.39" lengthAdjust="spacingAndGlyphs">70-79</text>
<text x="2198.66" y="2133.20" font-family='"Liberation Sans",sans-serif' font-size="37.71" fill="#676767" textLength="64.88" lengthAdjust="spacingAndGlyphs">&gt;80</text>
<text aria-label="GRUPO ETÁRIO" y="2195.40" font-family='"Liberation Sans",sans-serif' font-size="37.21" fill="#676767" stroke-linejoin="miter" stroke-miterlimit="3"><tspan x="1620.53" textLength="25.80" lengthAdjust="spacingAndGlyphs">G</tspan><tspan x="1647.86" textLength="21.91" lengthAdjust="spacingAndGlyphs">R</tspan><tspan x="1671.29" textLength="25.80" lengthAdjust="spacingAndGlyphs">U</tspan><tspan x="1698.60" textLength="21.34" lengthAdjust="spacingAndGlyphs">P</tspan><tspan x="1721.50" textLength="27.60" lengthAdjust="spacingAndGlyphs">O</tspan> <tspan x="1760.18" textLength="19.64" lengthAdjust="spacingAndGlyphs">E</tspan><tspan x="1781.08" textLength="19.54" lengthAdjust="spacingAndGlyphs">T</tspan><tspan x="1801.95" textLength="22.35" lengthAdjust="spacingAndGlyphs">Á</tspan><tspan x="1825.71" textLength="21.83" lengthAdjust="spacingAndGlyphs">R</tspan><tspan x="1848.55" textLength="9.85" lengthAdjust="spacingAndGlyphs">I</tspan><tspan x="1859.59" textLength="27.50" lengthAdjust="spacingAndGlyphs">O</tspan></text>
<text aria-label="TOTAL DE CASOS" y="0.00" font-family='"Liberation Sans",sans-serif' font-size="34.30" fill="#676767" stroke-linejoin="miter" stroke-miterlimit="3" transform="translate(1083.00 0) rotate(-90)"><tspan x="-1941.25" textLength="17.69" lengthAdjust="spacingAndGlyphs">T</tspan><tspan x="-1922.20" textLength="24.91" lengthAdjust="spacingAndGlyphs">O</tspan><tspan x="-1895.93" textLength="17.69" lengthAdjust="spacingAndGlyphs">T</tspan><tspan x="-1877.02" textLength="20.24" lengthAdjust="spacingAndGlyphs">A</tspan><tspan x="-1855.61" textLength="16.60" lengthAdjust="spacingAndGlyphs">L</tspan> <tspan x="-1830.46" textLength="22.52" lengthAdjust="spacingAndGlyphs">D</tspan><tspan x="-1806.67" textLength="17.18" lengthAdjust="spacingAndGlyphs">E</tspan> <tspan x="-1778.99" textLength="19.70" lengthAdjust="spacingAndGlyphs">C</tspan><tspan x="-1758.02" textLength="19.77" lengthAdjust="spacingAndGlyphs">A</tspan><tspan x="-1737.08" textLength="17.14" lengthAdjust="spacingAndGlyphs">S</tspan><tspan x="-1718.61" textLength="24.33" lengthAdjust="spacingAndGlyphs">O</tspan><tspan x="-1692.96" textLength="17.14" lengthAdjust="spacingAndGlyphs">S</tspan></text>
<line x1="1215.06" y1="2471.50" x2="2291" y2="2471.50" stroke="#9d9d9c" stroke-width="4.6" stroke-dasharray="5 7.74"/>
<line x1="1215.06" y1="2574.44" x2="2291" y2="2574.44" stroke="#9d9d9c" stroke-width="4.6" stroke-dasharray="5 7.74"/>
<line x1="1215.06" y1="2677.38" x2="2291" y2="2677.38" stroke="#9d9d9c" stroke-width="4.6" stroke-dasharray="5 7.74"/>
<line x1="1215.06" y1="2780.32" x2="2291" y2="2780.32" stroke="#9d9d9c" stroke-width="4.6" stroke-dasharray="5 7.74"/>
<line x1="1215.06" y1="2883.26" x2="2291" y2="2883.26" stroke="#9d9d9c" stroke-width="4.6" stroke-dasharray="5 7.74"/>
<rect x="1481.80" y="2985.60" width="30.80" height="0.60" fill="#5a9fac"/>
<rect x="1599.65" y="2983.80" width="34.00" height="2.40" fill="#fefefe"/>
<rect x="1601.15" y="2985.00" width="30.80" height="1.20" fill="#5a9fac"/>
<rect x="1635.15" y="2985.60" width="30.80" height="0.60" fill="#ff8a7a"/>
<rect x="1719.00" y="2980.00" width="34.00" height="6.20" fill="#fefefe"/>
<rect x="1752.80" y="2981.20" width="34.50" height="5.00" fill="#fefefe"/>
<rect x="1720.50" y="2981.20" width="30.80" height="5.00" fill="#5a9fac"/>
<rect x="1754.50" y="2982.40" width="30.80" height="3.80" fill="#ff8a7a"/>
<rect x="1838.35" y="2962.70" width="34.00" height="23.50" fill="#fefefe"/>
<rect x="1872.15" y="2977.10" width="34.50" height="9.10" fill="#fefefe"/>
<rect x="1839.85" y="2963.90" width="30.80" height="22.30" fill="#5a9fac"/>
<rect x="1873.85" y="2978.30" width="30.80" height="7.90" fill="#ff8a7a"/>
<rect x="1957.70" y="2919.80" width="34.00" height="66.40" fill="#fefefe"/>
<rect x="1991.50" y="2956.80" width="34.50" height="29.40" fill="#fefefe"/>
<rect x="1959.20" y="2921.00" width="30.80" height="65.20" fill="#5a9fac"/>
<rect x="1993.20" y="2958.00" width="30.80" height="28.20" fill="#ff8a7a"/>
<rect x="2077.05" y="2851.80" width="34.00" height="134.40" fill="#fefefe"/>
<rect x="2110.85" y="2898.80" width="34.50" height="87.40" fill="#fefefe"/>
<rect x="2078.55" y="2853.00" width="30.80" height="133.20" fill="#5a9fac"/>
<rect x="2112.55" y="2900.00" width="30.80" height="86.20" fill="#ff8a7a"/>
<rect x="2196.40" y="2657.90" width="34.00" height="328.30" fill="#fefefe"/>
<rect x="2230.20" y="2569.60" width="34.50" height="416.60" fill="#fefefe"/>
<rect x="2197.90" y="2659.10" width="30.80" height="327.10" fill="#5a9fac"/>
<rect x="2231.90" y="2570.80" width="30.80" height="415.40" fill="#ff8a7a"/>
<rect x="1213.20" y="2469.10" width="4.80" height="519.50" fill="#9d9d9c"/>
<rect x="1213.20" y="2983.80" width="1078.00" height="4.80" fill="#9d9d9c"/>
<text x="1123.55" y="2481.90" font-family='"Liberation Sans",sans-serif' font-size="32.29" fill="#676767" textLength="57.91" lengthAdjust="spacingAndGlyphs">875</text>
<text x="1123.45" y="2584.84" font-family='"Liberation Sans",sans-serif' font-size="32.29" fill="#676767" textLength="57.91" lengthAdjust="spacingAndGlyphs">700</text>
<text x="1123.55" y="2687.78" font-family='"Liberation Sans",sans-serif' font-size="32.29" fill="#676767" textLength="57.91" lengthAdjust="spacingAndGlyphs">525</text>
<text x="1123.45" y="2790.72" font-family='"Liberation Sans",sans-serif' font-size="32.29" fill="#676767" textLength="57.91" lengthAdjust="spacingAndGlyphs">350</text>
<text x="1123.55" y="2893.66" font-family='"Liberation Sans",sans-serif' font-size="32.29" fill="#676767" textLength="57.91" lengthAdjust="spacingAndGlyphs">175</text>
<text x="1162.05" y="2996.60" font-family='"Liberation Sans",sans-serif' font-size="32.29" fill="#676767" textLength="19.30" lengthAdjust="spacingAndGlyphs">0</text>
<text x="1226.70" y="3053.20" font-family='"Liberation Sans",sans-serif' font-size="37.71" fill="#676767" textLength="97.91" lengthAdjust="spacingAndGlyphs">00-09</text>
<text x="1344.59" y="3053.20" font-family='"Liberation Sans",sans-serif' font-size="37.71" fill="#676767" textLength="99.40" lengthAdjust="spacingAndGlyphs">10-19</text>
<text x="1464.97" y="3053.20" font-family='"Liberation Sans",sans-serif' font-size="37.71" fill="#676767" textLength="98.36" lengthAdjust="spacingAndGlyphs">20-29</text>
<text x="1584.79" y="3053.20" font-family='"Liberation Sans",sans-serif' font-size="37.71" fill="#676767" textLength="97.87" lengthAdjust="spacingAndGlyphs">30-39</text>
<text x="1704.73" y="3053.20" font-family='"Liberation Sans",sans-serif' font-size="37.71" fill="#676767" textLength="97.27" lengthAdjust="spacingAndGlyphs">40-49</text>
<text x="1823.42" y="3053.20" font-family='"Liberation Sans",sans-serif' font-size="37.71" fill="#676767" textLength="97.95" lengthAdjust="spacingAndGlyphs">50-59</text>
<text x="1942.35" y="3053.20" font-family='"Liberation Sans",sans-serif' font-size="37.71" fill="#676767" textLength="98.37" lengthAdjust="spacingAndGlyphs">60-69</text>
<text x="2061.68" y="3053.20" font-family='"Liberation Sans",sans-serif' font-size="37.71" fill="#676767" textLength="98.39" lengthAdjust="spacingAndGlyphs">70-79</text>
<text x="2198.66" y="3053.20" font-family='"Liberation Sans",sans-serif' font-size="37.71" fill="#676767" textLength="64.88" lengthAdjust="spacingAndGlyphs">&gt;80</text>
<text aria-label="GRUPO ETÁRIO" y="3115.40" font-family='"Liberation Sans",sans-serif' font-size="37.21" fill="#676767" stroke-linejoin="miter" stroke-miterlimit="3"><tspan x="1620.53" textLength="25.80" lengthAdjust="spacingAndGlyphs">G</tspan><tspan x="1647.86" textLength="21.91" lengthAdjust="spacingAndGlyphs">R</tspan><tspan x="1671.29" textLength="25.80" lengthAdjust="spacingAndGlyphs">U</tspan><tspan x="1698.60" textLength="21.34" lengthAdjust="spacingAndGlyphs">P</tspan><tspan x="1721.50" textLength="27.60" lengthAdjust="spacingAndGlyphs">O</tspan> <tspan x="1760.18" textLength="19.64" lengthAdjust="spacingAndGlyphs">E</tspan><tspan x="1781.08" textLength="19.54" lengthAdjust="spacingAndGlyphs">T</tspan><tspan x="1801.95" textLength="22.35" lengthAdjust="spacingAndGlyphs">Á</tspan><tspan x="1825.71" textLength="21.83" lengthAdjust="spacingAndGlyphs">R</tspan><tspan x="1848.55" textLength="9.85" lengthAdjust="spacingAndGlyphs">I</tspan><tspan x="1859.59" textLength="27.50" lengthAdjust="spacingAndGlyphs">O</tspan></text>
<text aria-label="TOTAL DE ÓBITOS" y="0.00" font-family='"Liberation Sans",sans-serif' font-size="34.30" fill="#676767" stroke-linejoin="miter" stroke-miterlimit="3" transform="translate(1102.20 0) rotate(-90)"><tspan x="-2870.75" textLength="17.69" lengthAdjust="spacingAndGlyphs">T</tspan><tspan x="-2851.70" textLength="24.91" lengthAdjust="spacingAndGlyphs">O</tspan><tspan x="-2825.43" textLength="17.69" lengthAdjust="spacingAndGlyphs">T</tspan><tspan x="-2806.52" textLength="20.24" lengthAdjust="spacingAndGlyphs">A</tspan><tspan x="-2785.11" textLength="16.60" lengthAdjust="spacingAndGlyphs">L</tspan> <tspan x="-2759.12" textLength="22.22" lengthAdjust="spacingAndGlyphs">D</tspan><tspan x="-2735.66" textLength="16.95" lengthAdjust="spacingAndGlyphs">E</tspan> <tspan x="-2707.18" textLength="24.24" lengthAdjust="spacingAndGlyphs">Ó</tspan><tspan x="-2681.51" textLength="20.17" lengthAdjust="spacingAndGlyphs">B</tspan><tspan x="-2660.42" textLength="8.68" lengthAdjust="spacingAndGlyphs">I</tspan><tspan x="-2650.92" textLength="17.22" lengthAdjust="spacingAndGlyphs">T</tspan><tspan x="-2632.37" textLength="24.24" lengthAdjust="spacingAndGlyphs">O</tspan><tspan x="-2606.81" textLength="17.08" lengthAdjust="spacingAndGlyphs">S</tspan></text>
<defs><filter id="lb" x="-5%" y="-5%" width="110%" height="110%"><feGaussianBlur stdDeviation="0.9"/></filter></defs>
<g filter="url(#lb)">
<g>
<path d="M1541.5 3345.3 Q1546 3344.4 1550 3345.3 L1550 3393 L1546.2 3397 L1546.2 3415.8 L1533.4 3415.8 Q1527.1 3415 1527.1 3409 L1527.1 3362 Q1529.5 3350 1541.5 3345.3Z" fill="#14773f"/>
<path d="M1549.4 3345.6 Q1564 3346 1577.2 3342.4 L1577.2 3377 Q1575 3388 1560 3391.6 Q1548 3393.6 1540 3397.4 Q1534 3400 1530.6 3403.6 Q1531 3398 1537 3393.6 Q1543 3389.6 1549.4 3388Z" fill="#e8121b"/>
<circle cx="1550.2" cy="3371" r="15" fill="#f2c81c"/>
<circle cx="1550.2" cy="3371" r="9.4" fill="#e0442a"/>
<circle cx="1550.2" cy="3371" r="6.2" fill="#f4d9c8"/>
<circle cx="1550" cy="3370.6" r="3.8" fill="#1d3a8c"/>
</g>
<text x="1597.00" y="3370.95" font-family='"Liberation Serif",serif' font-size="32.13" font-weight="700" fill="#585858" textLength="154.74" lengthAdjust="spacingAndGlyphs" stroke="#585858" stroke-width="0.90" stroke-linejoin="miter" stroke-miterlimit="3">REPÚBLICA</text>
<text x="1596.99" y="3400.05" font-family='"Liberation Serif",serif' font-size="32.13" font-weight="700" fill="#585858" textLength="188.26" lengthAdjust="spacingAndGlyphs" stroke="#585858" stroke-width="0.90" stroke-linejoin="miter" stroke-miterlimit="3">PORTUGUESA</text>
<rect x="1595.60" y="3412.80" width="193.10" height="3.00" fill="#5a5a5a"/>
<text x="1596.60" y="3440.00" font-family='"Liberation Sans",sans-serif' font-size="17.50" font-weight="700" fill="#585858" textLength="48.54" lengthAdjust="spacingAndGlyphs">SAÚDE</text>
<defs><linearGradient id="sg" gradientUnits="userSpaceOnUse" x1="350" y1="1300" x2="1350" y2="500"><stop offset="0" stop-color="#a9b637"/><stop offset="0.25" stop-color="#e6c02b"/><stop offset="0.6" stop-color="#f0a02c"/><stop offset="1" stop-color="#ea4a21"/></linearGradient><clipPath id="sc"><circle cx="785" cy="795" r="640"/></clipPath></defs>
<g transform="translate(1840 3335) scale(0.055432)"><g clip-path="url(#sc)">
<circle cx="785" cy="795" r="650" fill="#1b9a4b"/>
<path d="M470 100 L1200 100 Q1500 400 1500 700 L1340 660 Q1200 380 900 330 Q700 340 590 440 L470 450Z" fill="#de1f2a"/>
<path d="M1075 680 L1350 640 Q1520 800 1450 1040 L1130 1085Z" fill="#dc1c28"/>
<path d="M420 1340 Q280 1100 330 850 Q400 560 640 410 Q900 280 1200 400 Q1330 480 1355 650 L1075 675 Q850 700 680 830 Q560 950 565 1100 L560 1500 L420 1500Z" fill="url(#sg)"/>
<path d="M600 1010 Q640 840 850 725 Q960 680 1085 690 L1125 1085 L700 1110 Q610 1080 600 1010Z" fill="#fefefe"/>
<path d="M465 470 L530 470 L480 560Z" fill="#fefefe"/>
</g></g>
<rect x="1932.80" y="3344.80" width="3.40" height="68.00" fill="#8a8a8a"/>
<text x="1947.85" y="3376.70" font-family='"Liberation Sans",sans-serif' font-size="49.26" font-weight="700" fill="#3f3f41" textLength="74.77" lengthAdjust="spacingAndGlyphs" stroke="#3f3f41" stroke-width="1.20" stroke-linejoin="miter" stroke-miterlimit="3">SNS</text>
<text x="1948.21" y="3393.95" font-family='"Liberation Sans",sans-serif' font-size="16.27" font-weight="700" fill="#3f3f41" textLength="117.09" lengthAdjust="spacingAndGlyphs" stroke="#3f3f41" stroke-width="0.50" stroke-linejoin="miter" stroke-miterlimit="3">SERVIÇO NACIONAL</text>
<text x="1947.76" y="3414.55" font-family='"Liberation Sans",sans-serif' font-size="16.27" font-weight="700" fill="#3f3f41" textLength="61.05" lengthAdjust="spacingAndGlyphs" stroke="#3f3f41" stroke-width="0.50" stroke-linejoin="miter" stroke-miterlimit="3">DE SAÚDE</text>
<g transform="translate(2110 3335) scale(0.061576)">
<ellipse cx="770" cy="690" rx="480" ry="470" fill="#b3121b"/>
<path d="M300 260 Q340 200 420 190 L1110 170 L1120 350 Q700 380 280 350Z" fill="#0f6b3c"/>
<path d="M280 350 Q600 330 950 370 Q1150 340 1300 300 L1345 440 L1340 540 Q1000 600 560 590 Q400 570 285 500Z" fill="#e3101c"/>
<path d="M280 350 Q600 330 950 370 L940 460 Q600 470 285 460Z" fill="#a2101a"/>
<path d="M200 480 L210 530 Q400 580 560 600 Q900 600 1210 570 L1260 620 L1200 700 Q800 760 450 700 L200 720Z" fill="#0f6b3c"/>
<path d="M280 710 Q450 700 620 740 Q900 770 1200 700 L1390 660 L1340 850 L1180 900 Q800 950 520 940 Q380 900 290 790Z" fill="#e3101c"/>
<path d="M280 710 Q450 700 620 740 Q850 770 1000 760 L990 830 Q600 830 300 790Z" fill="#a2101a"/>
<path d="M230 840 L300 850 Q400 920 520 940 Q800 950 1160 900 L1170 980 L1080 1050 Q700 1070 480 1030 L330 1040 Q250 950 230 840Z" fill="#0f6b3c"/>
<path d="M490 1030 Q700 1070 1080 1050 L1220 1010 Q1150 1130 940 1225 L640 1225 Q540 1150 490 1030Z" fill="#e3101c"/>
<path d="M490 1030 Q700 1070 900 1060 L880 1120 Q650 1130 510 1100Z" fill="#a2101a"/>
</g>
<text x="2211.49" y="3390.10" font-family='"Liberation Sans",sans-serif' font-size="67.09" font-weight="700" fill="#575756" textLength="130.06" lengthAdjust="spacingAndGlyphs" stroke="#575756" stroke-width="2.00" stroke-linejoin="miter" stroke-miterlimit="3">DGS</text>
<rect x="2350.20" y="3342.80" width="41.00" height="3.00" fill="#b9b9b9"/>
<rect x="2350.20" y="3389.60" width="41.00" height="3.60" fill="#b9b9b9"/>
<text x="2351.40" y="3362.60" font-family='"Liberation Sans",sans-serif' font-size="14.50" fill="#6b6b6b" textLength="38.73" lengthAdjust="spacingAndGlyphs">desde</text>
<text x="2351.92" y="3382.80" font-family='"Liberation Sans",sans-serif' font-size="18.50" font-weight="700" fill="#6b6b6b" textLength="38.22" lengthAdjust="spacingAndGlyphs">1899</text>
<text x="2212.13" y="3414.60" font-family='"Liberation Sans",sans-serif' font-size="18.60" fill="#7a7a7a" textLength="180.01" lengthAdjust="spacingAndGlyphs">Direção-Geral da Saúde</text>
</g>
</svg>
</body></html>
